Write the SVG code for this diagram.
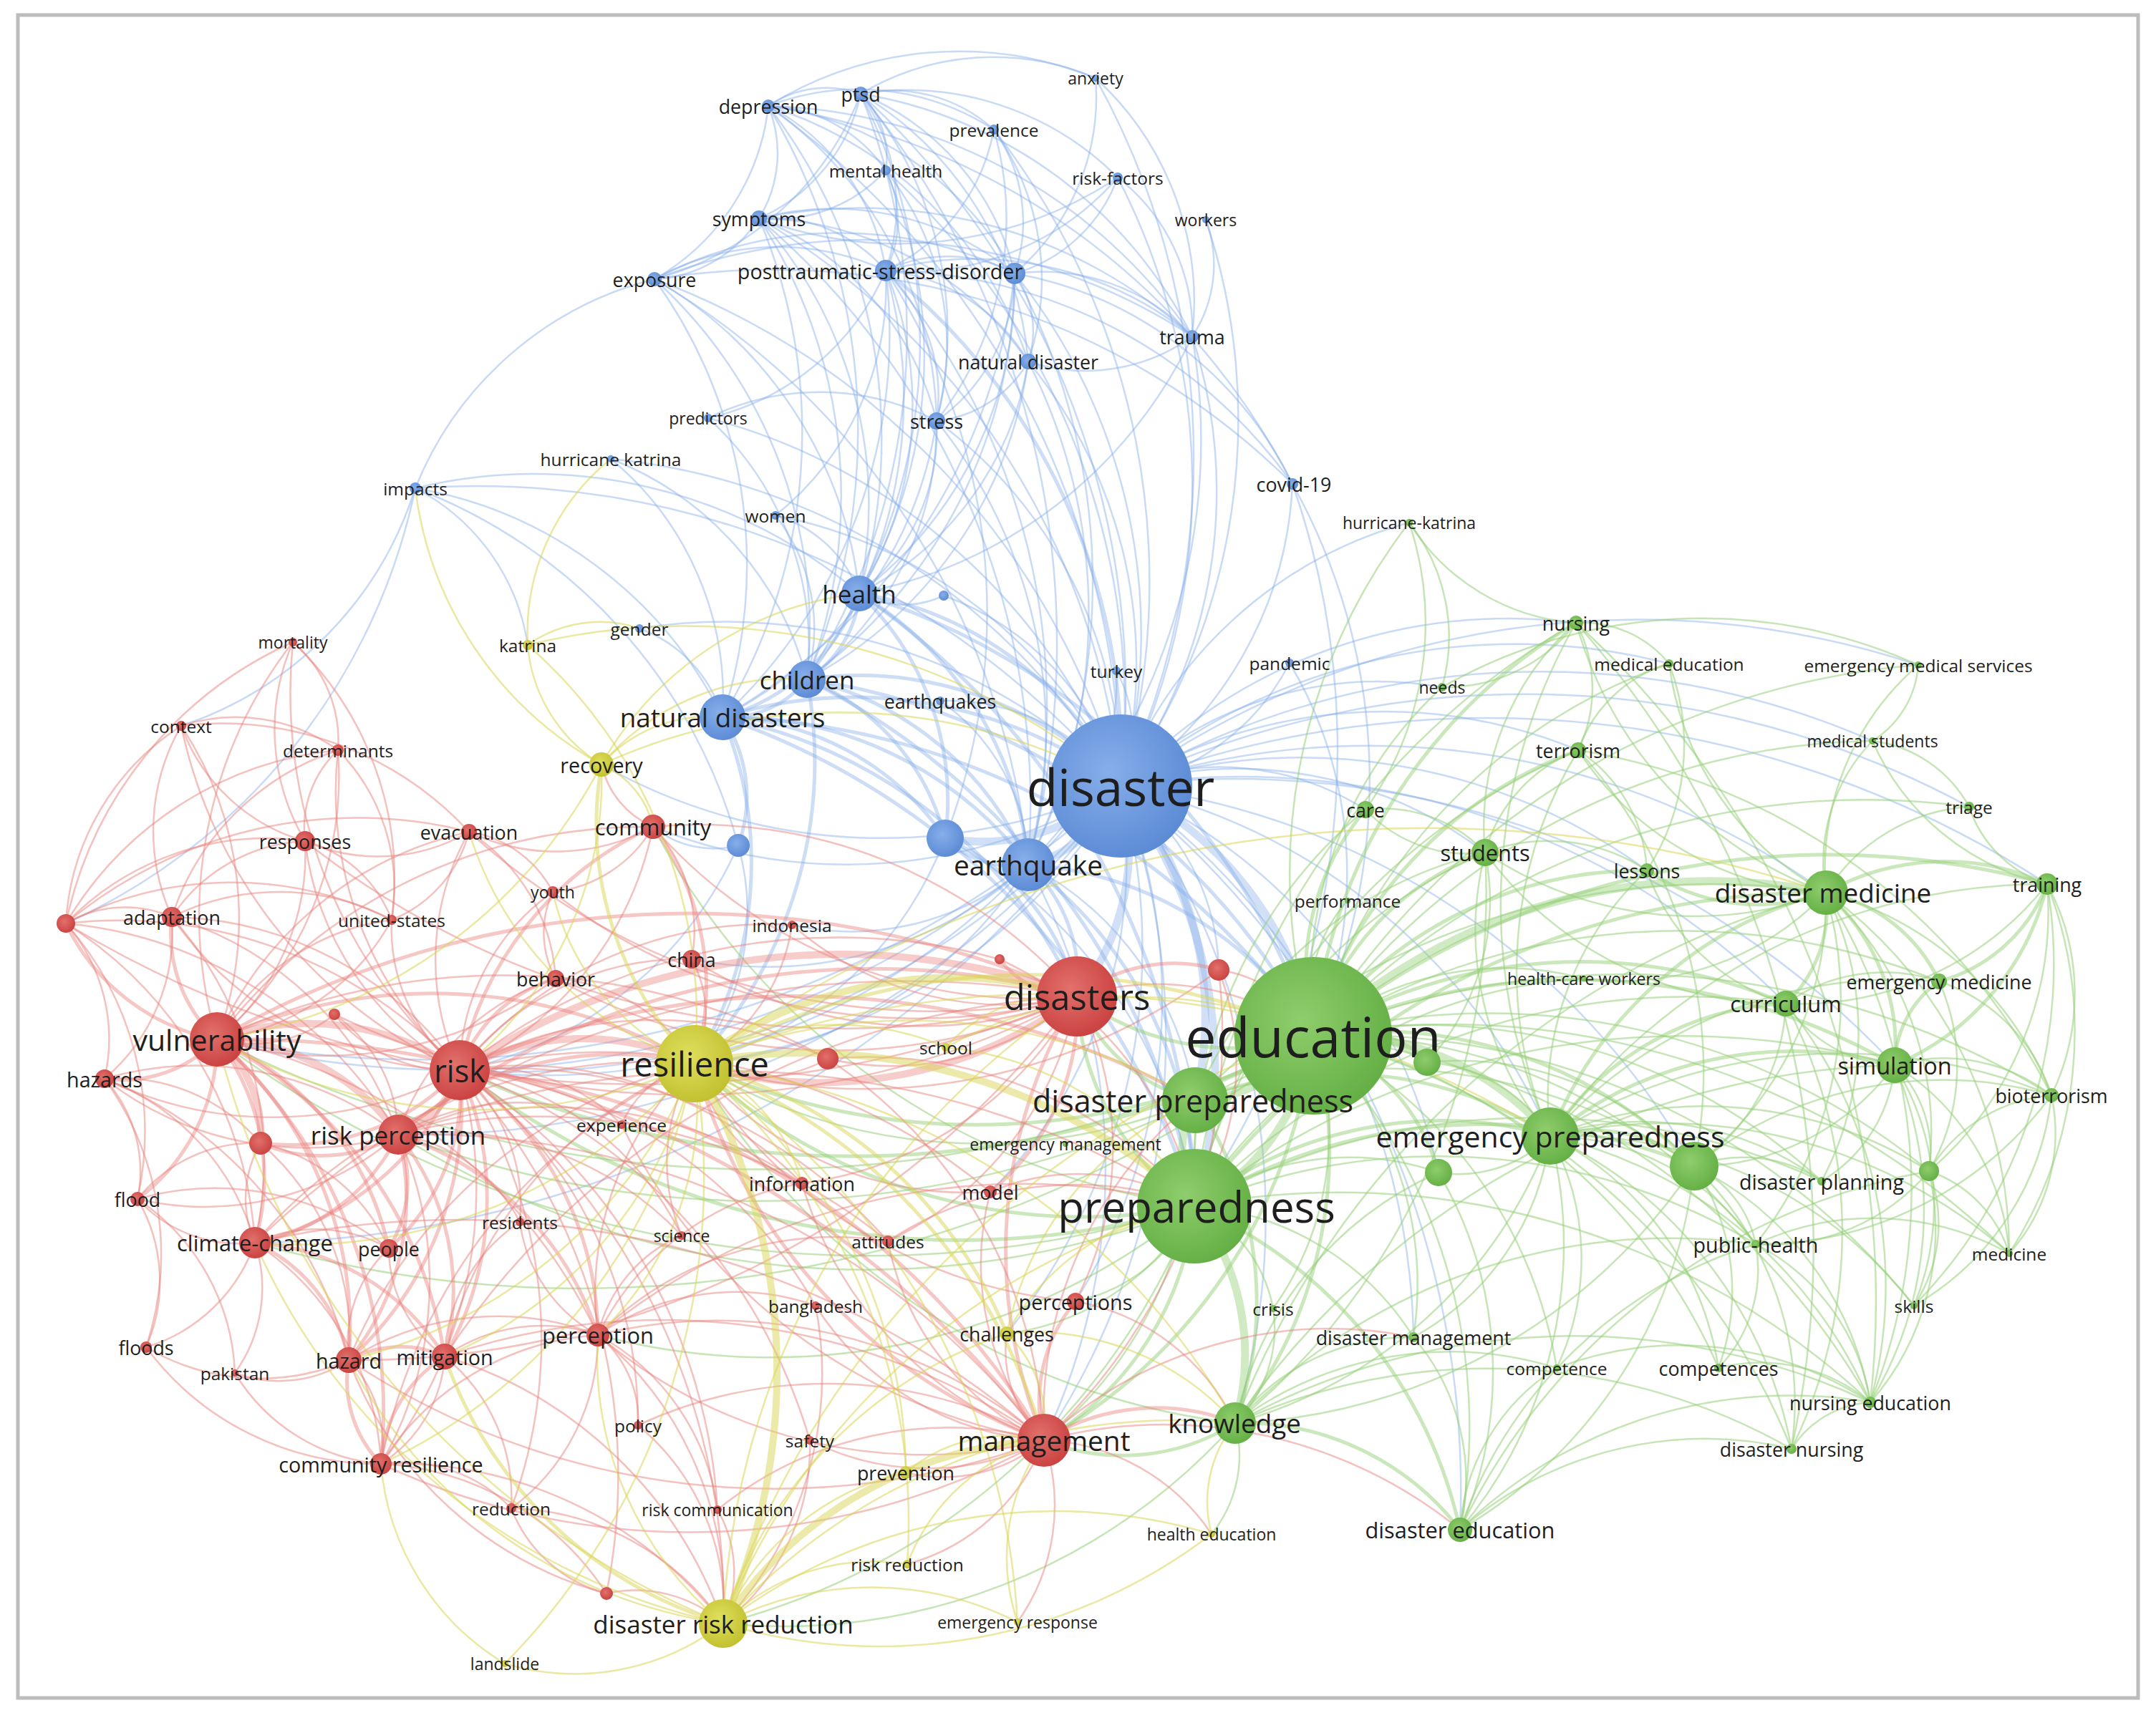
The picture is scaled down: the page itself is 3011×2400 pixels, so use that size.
<svg xmlns="http://www.w3.org/2000/svg" width="3011" height="2400" viewBox="0 0 3011 2400">
<style>
.e path{fill:none;vector-effect:non-scaling-stroke;stroke-linecap:round}
.b1{stroke:#86ade8;stroke-width:2.5;stroke-opacity:.45}
.b2{stroke:#86ade8;stroke-width:5;stroke-opacity:.42}
.b3{stroke:#86ade8;stroke-width:11;stroke-opacity:.38}
.r1{stroke:#e8837e;stroke-width:2.5;stroke-opacity:.5}
.r2{stroke:#e8837e;stroke-width:5;stroke-opacity:.45}
.r3{stroke:#e8837e;stroke-width:10;stroke-opacity:.4}
.g1{stroke:#97d07a;stroke-width:2.5;stroke-opacity:.55}
.g2{stroke:#97d07a;stroke-width:5;stroke-opacity:.5}
.g3{stroke:#97d07a;stroke-width:11;stroke-opacity:.45}
.y1{stroke:#d9d655;stroke-width:2.5;stroke-opacity:.55}
.y2{stroke:#d9d655;stroke-width:5;stroke-opacity:.5}
.y3{stroke:#d9d655;stroke-width:10;stroke-opacity:.5}
text{font-family:"Open Sans","Noto Sans","DejaVu Sans",sans-serif;fill:#1e1e1e;text-anchor:middle;dominant-baseline:central}
.nb circle{fill:url(#gB)}
.nr circle{fill:url(#gR)}
.ng circle{fill:url(#gG)}
.ny circle{fill:url(#gY)}
.f23{font-size:23px}.f24{font-size:24.5px}.f27{font-size:26.8px}.f29{font-size:28.7px}.f31{font-size:30.8px}.f33{font-size:32.5px}.f35{font-size:35px}.f37{font-size:36.8px}.f39{font-size:38.8px}.f41{font-size:41px}.f43{font-size:43px}.f47{font-size:47px}.f49{font-size:49px}.f60{font-size:60px}.f71{font-size:71px}.f77{font-size:77px}
</style>
<defs>
<radialGradient id="gB" cx=".42" cy=".4" r=".65"><stop offset="0" stop-color="#86aeea"/><stop offset="1" stop-color="#5a89d4"/></radialGradient>
<radialGradient id="gR" cx=".42" cy=".4" r=".65"><stop offset="0" stop-color="#e2706b"/><stop offset="1" stop-color="#c9403f"/></radialGradient>
<radialGradient id="gG" cx=".42" cy=".4" r=".65"><stop offset="0" stop-color="#8fcd6c"/><stop offset="1" stop-color="#62ae43"/></radialGradient>
<radialGradient id="gY" cx=".42" cy=".4" r=".65"><stop offset="0" stop-color="#e0df5e"/><stop offset="1" stop-color="#c0bf2e"/></radialGradient>
</defs>
<rect width="3011" height="2400" fill="#fff"/>
<rect x="25" y="21" width="2961" height="2351" fill="none" stroke="#bcbcbc" stroke-width="5"/>
<g id="connectors" class="e">
<g class="b1">
<path transform="matrix(129 -17 17 129 1073 148)" d="M0 0A1.1 1.1 0 0 1 1 0"/>
<path transform="matrix(-13 157 -157 -13 1073 148)" d="M0 0A1.1 1.1 0 0 1 1 0"/>
<path transform="matrix(-159 242 -242 -159 1073 148)" d="M0 0A1.1 1.1 0 0 1 1 0"/>
<path transform="matrix(164 230 -230 164 1073 148)" d="M0 0A1.1 1.1 0 0 1 1 0"/>
<path transform="matrix(344 234 -234 344 1073 148)" d="M0 0A1.1 1.1 0 0 1 1 0"/>
<path transform="matrix(164 90 -90 164 1073 148)" d="M0 0A1.1 1.1 0 0 1 1 0"/>
<path transform="matrix(315 33 -33 315 1073 148)" d="M0 0A1.1 1.1 0 0 1 1 0"/>
<path transform="matrix(457 -39 39 457 1073 148)" d="M0 0A1.1 1.1 0 0 1 1 0"/>
<path transform="matrix(235 440 -440 235 1073 148)" d="M0 0A1.1 1.1 0 0 1 1 0"/>
<path transform="matrix(363 357 -357 363 1073 148)" d="M0 0A1.1 1.1 0 0 1 1 0"/>
<path transform="matrix(127 681 -681 127 1073 148)" d="M0 0A1.1 1.1 0 0 1 1 0"/>
<path transform="matrix(54 801 -801 54 1073 148)" d="M0 0A1.1 1.1 0 0 1 1 0"/>
<path transform="matrix(492 950 -950 492 1073 148)" d="M0 0A1.1 1.1 0 0 1 1 0"/>
<path transform="matrix(592 322 -322 592 1073 148)" d="M0 0A1.1 1.1 0 0 1 1 0"/>
<path transform="matrix(732 528 -528 732 1073 148)" d="M0 0A1.1 1.1 0 0 1 1 0"/>
<path transform="matrix(-142 174 -174 -142 1202 131)" d="M0 0A1.1 1.1 0 0 1 1 0"/>
<path transform="matrix(35 247 -247 35 1202 131)" d="M0 0A1.1 1.1 0 0 1 1 0"/>
<path transform="matrix(215 251 -251 215 1202 131)" d="M0 0A1.1 1.1 0 0 1 1 0"/>
<path transform="matrix(186 50 -50 186 1202 131)" d="M0 0A1.1 1.1 0 0 1 1 0"/>
<path transform="matrix(35 107 -107 35 1202 131)" d="M0 0A1.1 1.1 0 0 1 1 0"/>
<path transform="matrix(463 339 -339 463 1202 131)" d="M0 0A1.1 1.1 0 0 1 1 0"/>
<path transform="matrix(-288 259 -259 -288 1202 131)" d="M0 0A1.1 1.1 0 0 1 1 0"/>
<path transform="matrix(106 457 -457 106 1202 131)" d="M0 0A1.1 1.1 0 0 1 1 0"/>
<path transform="matrix(234 374 -374 234 1202 131)" d="M0 0A1.1 1.1 0 0 1 1 0"/>
<path transform="matrix(363 967 -967 363 1202 131)" d="M0 0A1.1 1.1 0 0 1 1 0"/>
<path transform="matrix(-75 818 -818 -75 1202 131)" d="M0 0A1.1 1.1 0 0 1 1 0"/>
<path transform="matrix(-2 698 -698 -2 1202 131)" d="M0 0A1.1 1.1 0 0 1 1 0"/>
<path transform="matrix(234 1077 -1077 234 1202 131)" d="M0 0A1.1 1.1 0 0 1 1 0"/>
<path transform="matrix(328 -22 22 328 1202 131)" d="M0 0A1.1 1.1 0 0 1 1 0"/>
<path transform="matrix(359 117 -117 359 1202 131)" d="M0 0A1.1 1.1 0 0 1 1 0"/>
<path transform="matrix(35 989 -989 35 1530 109)" d="M0 0A1.1 1.1 0 0 1 1 0"/>
<path transform="matrix(135 361 -361 135 1530 109)" d="M0 0A1.1 1.1 0 0 1 1 0"/>
<path transform="matrix(-113 273 -273 -113 1530 109)" d="M0 0A1.1 1.1 0 0 1 1 0"/>
<path transform="matrix(-151 197 -197 -151 1388 181)" d="M0 0A1.1 1.1 0 0 1 1 0"/>
<path transform="matrix(29 201 -201 29 1388 181)" d="M0 0A1.1 1.1 0 0 1 1 0"/>
<path transform="matrix(177 917 -917 177 1388 181)" d="M0 0A1.1 1.1 0 0 1 1 0"/>
<path transform="matrix(-80 407 -407 -80 1388 181)" d="M0 0A1.1 1.1 0 0 1 1 0"/>
<path transform="matrix(48 324 -324 48 1388 181)" d="M0 0A1.1 1.1 0 0 1 1 0"/>
<path transform="matrix(0 140 -140 0 1237 238)" d="M0 0A1.1 1.1 0 0 1 1 0"/>
<path transform="matrix(-177 67 -67 -177 1237 238)" d="M0 0A1.1 1.1 0 0 1 1 0"/>
<path transform="matrix(328 860 -860 328 1237 238)" d="M0 0A1.1 1.1 0 0 1 1 0"/>
<path transform="matrix(-37 591 -591 -37 1237 238)" d="M0 0A1.1 1.1 0 0 1 1 0"/>
<path transform="matrix(71 350 -350 71 1237 238)" d="M0 0A1.1 1.1 0 0 1 1 0"/>
<path transform="matrix(-144 134 -134 -144 1561 248)" d="M0 0A1.1 1.1 0 0 1 1 0"/>
<path transform="matrix(-324 130 -130 -324 1561 248)" d="M0 0A1.1 1.1 0 0 1 1 0"/>
<path transform="matrix(4 850 -850 4 1561 248)" d="M0 0A1.1 1.1 0 0 1 1 0"/>
<path transform="matrix(104 222 -222 104 1561 248)" d="M0 0A1.1 1.1 0 0 1 1 0"/>
<path transform="matrix(-501 57 -57 -501 1561 248)" d="M0 0A1.1 1.1 0 0 1 1 0"/>
<path transform="matrix(-119 791 -791 -119 1684 307)" d="M0 0A1.1 1.1 0 0 1 1 0"/>
<path transform="matrix(-19 163 -163 -19 1684 307)" d="M0 0A1.1 1.1 0 0 1 1 0"/>
<path transform="matrix(-146 85 -85 -146 1060 305)" d="M0 0A1.1 1.1 0 0 1 1 0"/>
<path transform="matrix(177 73 -73 177 1060 305)" d="M0 0A1.1 1.1 0 0 1 1 0"/>
<path transform="matrix(357 77 -77 357 1060 305)" d="M0 0A1.1 1.1 0 0 1 1 0"/>
<path transform="matrix(248 283 -283 248 1060 305)" d="M0 0A1.1 1.1 0 0 1 1 0"/>
<path transform="matrix(376 200 -200 376 1060 305)" d="M0 0A1.1 1.1 0 0 1 1 0"/>
<path transform="matrix(67 644 -644 67 1060 305)" d="M0 0A1.1 1.1 0 0 1 1 0"/>
<path transform="matrix(140 524 -524 140 1060 305)" d="M0 0A1.1 1.1 0 0 1 1 0"/>
<path transform="matrix(505 793 -793 505 1060 305)" d="M0 0A1.1 1.1 0 0 1 1 0"/>
<path transform="matrix(-51 697 -697 -51 1060 305)" d="M0 0A1.1 1.1 0 0 1 1 0"/>
<path transform="matrix(376 903 -903 376 1060 305)" d="M0 0A1.1 1.1 0 0 1 1 0"/>
<path transform="matrix(605 165 -165 605 1060 305)" d="M0 0A1.1 1.1 0 0 1 1 0"/>
<path transform="matrix(323 -12 12 323 914 390)" d="M0 0A1.1 1.1 0 0 1 1 0"/>
<path transform="matrix(503 -8 8 503 914 390)" d="M0 0A1.1 1.1 0 0 1 1 0"/>
<path transform="matrix(95 612 -612 95 914 390)" d="M0 0A1.1 1.1 0 0 1 1 0"/>
<path transform="matrix(213 559 -559 213 914 390)" d="M0 0A1.1 1.1 0 0 1 1 0"/>
<path transform="matrix(651 708 -708 651 914 390)" d="M0 0A1.1 1.1 0 0 1 1 0"/>
<path transform="matrix(522 818 -818 522 914 390)" d="M0 0A1.1 1.1 0 0 1 1 0"/>
<path transform="matrix(286 439 -439 286 914 390)" d="M0 0A1.1 1.1 0 0 1 1 0"/>
<path transform="matrix(751 80 -80 751 914 390)" d="M0 0A1.1 1.1 0 0 1 1 0"/>
<path transform="matrix(891 286 -286 891 914 390)" d="M0 0A1.1 1.1 0 0 1 1 0"/>
<path transform="matrix(180 4 -4 180 1237 378)" d="M0 0A1.1 1.1 0 0 1 1 0"/>
<path transform="matrix(428 92 -92 428 1237 378)" d="M0 0A1.1 1.1 0 0 1 1 0"/>
<path transform="matrix(199 127 -127 199 1237 378)" d="M0 0A1.1 1.1 0 0 1 1 0"/>
<path transform="matrix(71 210 -210 71 1237 378)" d="M0 0A1.1 1.1 0 0 1 1 0"/>
<path transform="matrix(-37 451 -451 -37 1237 378)" d="M0 0A1.1 1.1 0 0 1 1 0"/>
<path transform="matrix(-110 571 -571 -110 1237 378)" d="M0 0A1.1 1.1 0 0 1 1 0"/>
<path transform="matrix(-228 624 -624 -228 1237 378)" d="M0 0A1.1 1.1 0 0 1 1 0"/>
<path transform="matrix(199 830 -830 199 1237 378)" d="M0 0A1.1 1.1 0 0 1 1 0"/>
<path transform="matrix(83 793 -793 83 1237 378)" d="M0 0A1.1 1.1 0 0 1 1 0"/>
<path transform="matrix(-154 342 -342 -154 1237 378)" d="M0 0A1.1 1.1 0 0 1 1 0"/>
<path transform="matrix(-248 206 -206 -248 1237 378)" d="M0 0A1.1 1.1 0 0 1 1 0"/>
<path transform="matrix(568 298 -298 568 1237 378)" d="M0 0A1.1 1.1 0 0 1 1 0"/>
<path transform="matrix(248 88 -88 248 1417 382)" d="M0 0A1.1 1.1 0 0 1 1 0"/>
<path transform="matrix(19 123 -123 19 1417 382)" d="M0 0A1.1 1.1 0 0 1 1 0"/>
<path transform="matrix(-109 206 -206 -109 1417 382)" d="M0 0A1.1 1.1 0 0 1 1 0"/>
<path transform="matrix(148 716 -716 148 1417 382)" d="M0 0A1.1 1.1 0 0 1 1 0"/>
<path transform="matrix(19 826 -826 19 1417 382)" d="M0 0A1.1 1.1 0 0 1 1 0"/>
<path transform="matrix(-290 567 -567 -290 1417 382)" d="M0 0A1.1 1.1 0 0 1 1 0"/>
<path transform="matrix(-217 447 -447 -217 1417 382)" d="M0 0A1.1 1.1 0 0 1 1 0"/>
<path transform="matrix(-408 620 -620 -408 1417 382)" d="M0 0A1.1 1.1 0 0 1 1 0"/>
<path transform="matrix(388 294 -294 388 1417 382)" d="M0 0A1.1 1.1 0 0 1 1 0"/>
<path transform="matrix(-100 628 -628 -100 1665 470)" d="M0 0A1.1 1.1 0 0 1 1 0"/>
<path transform="matrix(-229 35 -35 -229 1665 470)" d="M0 0A1.1 1.1 0 0 1 1 0"/>
<path transform="matrix(-229 738 -738 -229 1665 470)" d="M0 0A1.1 1.1 0 0 1 1 0"/>
<path transform="matrix(-465 359 -359 -465 1665 470)" d="M0 0A1.1 1.1 0 0 1 1 0"/>
<path transform="matrix(129 593 -593 129 1436 505)" d="M0 0A1.1 1.1 0 0 1 1 0"/>
<path transform="matrix(-128 83 -83 -128 1436 505)" d="M0 0A1.1 1.1 0 0 1 1 0"/>
<path transform="matrix(0 703 -703 0 1436 505)" d="M0 0A1.1 1.1 0 0 1 1 0"/>
<path transform="matrix(-236 324 -324 -236 1436 505)" d="M0 0A1.1 1.1 0 0 1 1 0"/>
<path transform="matrix(-309 444 -444 -309 1436 505)" d="M0 0A1.1 1.1 0 0 1 1 0"/>
<path transform="matrix(576 514 -514 576 989 584)" d="M0 0A1.1 1.1 0 0 1 1 0"/>
<path transform="matrix(138 365 -365 138 989 584)" d="M0 0A1.1 1.1 0 0 1 1 0"/>
<path transform="matrix(319 4 -4 319 989 584)" d="M0 0A1.1 1.1 0 0 1 1 0"/>
<path transform="matrix(257 510 -510 257 1308 588)" d="M0 0A1.1 1.1 0 0 1 1 0"/>
<path transform="matrix(-108 241 -241 -108 1308 588)" d="M0 0A1.1 1.1 0 0 1 1 0"/>
<path transform="matrix(128 620 -620 128 1308 588)" d="M0 0A1.1 1.1 0 0 1 1 0"/>
<path transform="matrix(-181 361 -361 -181 1308 588)" d="M0 0A1.1 1.1 0 0 1 1 0"/>
<path transform="matrix(-299 414 -414 -299 1308 588)" d="M0 0A1.1 1.1 0 0 1 1 0"/>
<path transform="matrix(712 457 -457 712 853 641)" d="M0 0A1.1 1.1 0 0 1 1 0"/>
<path transform="matrix(156 361 -361 156 853 641)" d="M0 0A1.1 1.1 0 0 1 1 0"/>
<path transform="matrix(274 308 -308 274 853 641)" d="M0 0A1.1 1.1 0 0 1 1 0"/>
<path transform="matrix(985 416 -416 985 580 682)" d="M0 0A1.1 1.1 0 0 1 1 0"/>
<path transform="matrix(429 320 -320 429 580 682)" d="M0 0A1.1 1.1 0 0 1 1 0"/>
<path transform="matrix(620 147 -147 620 580 682)" d="M0 0A1.1 1.1 0 0 1 1 0"/>
<path transform="matrix(451 499 -499 451 580 682)" d="M0 0A1.1 1.1 0 0 1 1 0"/>
<path transform="matrix(334 -292 292 334 580 682)" d="M0 0A1.1 1.1 0 0 1 1 0"/>
<path transform="matrix(157 219 -219 157 580 682)" d="M0 0A1.1 1.1 0 0 1 1 0"/>
<path transform="matrix(-327 332 -332 -327 580 682)" d="M0 0A1.1 1.1 0 0 1 1 0"/>
<path transform="matrix(-488 608 -608 -488 580 682)" d="M0 0A1.1 1.1 0 0 1 1 0"/>
<path transform="matrix(-240 422 -422 -240 1805 676)" d="M0 0A1.1 1.1 0 0 1 1 0"/>
<path transform="matrix(29 771 -771 29 1805 676)" d="M0 0A1.1 1.1 0 0 1 1 0"/>
<path transform="matrix(-137 1009 -1009 -137 1805 676)" d="M0 0A1.1 1.1 0 0 1 1 0"/>
<path transform="matrix(482 378 -378 482 1083 720)" d="M0 0A1.1 1.1 0 0 1 1 0"/>
<path transform="matrix(117 109 -109 117 1083 720)" d="M0 0A1.1 1.1 0 0 1 1 0"/>
<path transform="matrix(44 229 -229 44 1083 720)" d="M0 0A1.1 1.1 0 0 1 1 0"/>
<path transform="matrix(672 220 -220 672 893 878)" d="M0 0A1.1 1.1 0 0 1 1 0"/>
<path transform="matrix(116 124 -124 116 893 878)" d="M0 0A1.1 1.1 0 0 1 1 0"/>
<path transform="matrix(252 119 -119 252 1313 979)" d="M0 0A1.1 1.1 0 0 1 1 0"/>
<path transform="matrix(123 229 -229 123 1313 979)" d="M0 0A1.1 1.1 0 0 1 1 0"/>
<path transform="matrix(6 161 -161 6 1559 937)" d="M0 0A1.1 1.1 0 0 1 1 0"/>
<path transform="matrix(-123 271 -271 -123 1559 937)" d="M0 0A1.1 1.1 0 0 1 1 0"/>
<path transform="matrix(-236 172 -172 -236 1801 926)" d="M0 0A1.1 1.1 0 0 1 1 0"/>
<path transform="matrix(33 521 -521 33 1801 926)" d="M0 0A1.1 1.1 0 0 1 1 0"/>
<path transform="matrix(-61 305 -305 -61 1031 1181)" d="M0 0A1.1 1.1 0 0 1 1 0"/>
<path transform="matrix(-389 314 -314 -389 1031 1181)" d="M0 0A1.1 1.1 0 0 1 1 0"/>
<path transform="matrix(-119 -26 26 -119 1031 1181)" d="M0 0A1.1 1.1 0 0 1 1 0"/>
<path transform="matrix(247 266 -266 247 1318 832)" d="M0 0A1.1 1.1 0 0 1 1 0"/>
<path transform="matrix(-118 -3 3 -118 1318 832)" d="M0 0A1.1 1.1 0 0 1 1 0"/>
<path transform="matrix(600 489 -489 600 1565 1098)" d="M0 0A1.1 1.1 0 0 1 1 0"/>
<path transform="matrix(-595 388 -388 -595 1565 1098)" d="M0 0A1.1 1.1 0 0 1 1 0"/>
<path transform="matrix(985 149 -149 985 1565 1098)" d="M0 0A1.1 1.1 0 0 1 1 0"/>
<path transform="matrix(509 93 -93 509 1565 1098)" d="M0 0A1.1 1.1 0 0 1 1 0"/>
<path transform="matrix(342 33 -33 342 1565 1098)" d="M0 0A1.1 1.1 0 0 1 1 0"/>
<path transform="matrix(639 -50 50 639 1565 1098)" d="M0 0A1.1 1.1 0 0 1 1 0"/>
<path transform="matrix(636 -228 228 636 1565 1098)" d="M0 0A1.1 1.1 0 0 1 1 0"/>
<path transform="matrix(-107 914 -914 -107 1565 1098)" d="M0 0A1.1 1.1 0 0 1 1 0"/>
<path transform="matrix(160 890 -890 160 1565 1098)" d="M0 0A1.1 1.1 0 0 1 1 0"/>
<path transform="matrix(-923 397 -397 -923 1565 1098)" d="M0 0A1.1 1.1 0 0 1 1 0"/>
<path transform="matrix(-1262 354 -354 -1262 1565 1098)" d="M0 0A1.1 1.1 0 0 1 1 0"/>
<path transform="matrix(801 531 -531 801 1565 1098)" d="M0 0A1.1 1.1 0 0 1 1 0"/>
<path transform="matrix(444 540 -540 444 1565 1098)" d="M0 0A1.1 1.1 0 0 1 1 0"/>
<path transform="matrix(1081 390 -390 1081 1565 1098)" d="M0 0A1.1 1.1 0 0 1 1 0"/>
<path transform="matrix(929 304 -304 929 1565 1098)" d="M0 0A1.1 1.1 0 0 1 1 0"/>
<path transform="matrix(735 118 -118 735 1565 1098)" d="M0 0A1.1 1.1 0 0 1 1 0"/>
<path transform="matrix(449 -138 138 449 1565 1098)" d="M0 0A1.1 1.1 0 0 1 1 0"/>
<path transform="matrix(1114 -169 169 1114 1565 1098)" d="M0 0A1.1 1.1 0 0 1 1 0"/>
<path transform="matrix(766 -171 171 766 1565 1098)" d="M0 0A1.1 1.1 0 0 1 1 0"/>
<path transform="matrix(1294 137 -137 1294 1565 1098)" d="M0 0A1.1 1.1 0 0 1 1 0"/>
<path transform="matrix(1185 29 -29 1185 1565 1098)" d="M0 0A1.1 1.1 0 0 1 1 0"/>
<path transform="matrix(-653 57 -57 -653 1565 1098)" d="M0 0A1.1 1.1 0 0 1 1 0"/>
<path transform="matrix(-725 -30 30 -725 1565 1098)" d="M0 0A1.1 1.1 0 0 1 1 0"/>
<path transform="matrix(-159 765 -765 -159 1565 1098)" d="M0 0A1.1 1.1 0 0 1 1 0"/>
<path transform="matrix(-63 720 -720 -63 1565 1098)" d="M0 0A1.1 1.1 0 0 1 1 0"/>
<path transform="matrix(-182 567 -567 -182 1565 1098)" d="M0 0A1.1 1.1 0 0 1 1 0"/>
<path transform="matrix(137 257 -257 137 1565 1098)" d="M0 0A1.1 1.1 0 0 1 1 0"/>
<path transform="matrix(474 1039 -1039 474 1565 1098)" d="M0 0A1.1 1.1 0 0 1 1 0"/>
<path transform="matrix(409 770 -770 409 1565 1098)" d="M0 0A1.1 1.1 0 0 1 1 0"/>
<path transform="matrix(403 -368 368 403 1565 1098)" d="M0 0A1.1 1.1 0 0 1 1 0"/>
<path transform="matrix(1050 -63 63 1050 1565 1098)" d="M0 0A1.1 1.1 0 0 1 1 0"/>
<path transform="matrix(-1009 487 -487 -1009 1565 1098)" d="M0 0A1.1 1.1 0 0 1 1 0"/>
<path transform="matrix(-1209 638 -638 -1209 1565 1098)" d="M0 0A1.1 1.1 0 0 1 1 0"/>
<path transform="matrix(-466 278 -278 -466 1436 1208)" d="M0 0A1.1 1.1 0 0 1 1 0"/>
<path transform="matrix(-794 287 -287 -794 1436 1208)" d="M0 0A1.1 1.1 0 0 1 1 0"/>
<path transform="matrix(-1133 244 -244 -1133 1436 1208)" d="M0 0A1.1 1.1 0 0 1 1 0"/>
<path transform="matrix(-470 132 -132 -470 1436 1208)" d="M0 0A1.1 1.1 0 0 1 1 0"/>
<path transform="matrix(-330 84 -84 -330 1436 1208)" d="M0 0A1.1 1.1 0 0 1 1 0"/>
<path transform="matrix(22 804 -804 22 1436 1208)" d="M0 0A1.1 1.1 0 0 1 1 0"/>
<path transform="matrix(233 329 -329 233 1436 1208)" d="M0 0A1.1 1.1 0 0 1 1 0"/>
<path transform="matrix(-350 315 -315 -350 1320 1171)" d="M0 0A1.1 1.1 0 0 1 1 0"/>
<path transform="matrix(348 514 -514 348 1320 1171)" d="M0 0A1.1 1.1 0 0 1 1 0"/>
</g>
<g class="b2">
<path transform="matrix(365 269 -269 365 1200 829)" d="M0 0A1.1 1.1 0 0 1 1 0"/>
<path transform="matrix(-73 120 -120 -73 1200 829)" d="M0 0A1.1 1.1 0 0 1 1 0"/>
<path transform="matrix(-191 173 -173 -191 1200 829)" d="M0 0A1.1 1.1 0 0 1 1 0"/>
<path transform="matrix(236 379 -379 236 1200 829)" d="M0 0A1.1 1.1 0 0 1 1 0"/>
<path transform="matrix(120 342 -342 120 1200 829)" d="M0 0A1.1 1.1 0 0 1 1 0"/>
<path transform="matrix(634 618 -618 634 1200 829)" d="M0 0A1.1 1.1 0 0 1 1 0"/>
<path transform="matrix(468 856 -856 468 1200 829)" d="M0 0A1.1 1.1 0 0 1 1 0"/>
<path transform="matrix(438 149 -149 438 1127 949)" d="M0 0A1.1 1.1 0 0 1 1 0"/>
<path transform="matrix(-118 53 -53 -118 1127 949)" d="M0 0A1.1 1.1 0 0 1 1 0"/>
<path transform="matrix(309 259 -259 309 1127 949)" d="M0 0A1.1 1.1 0 0 1 1 0"/>
<path transform="matrix(193 222 -222 193 1127 949)" d="M0 0A1.1 1.1 0 0 1 1 0"/>
<path transform="matrix(707 498 -498 707 1127 949)" d="M0 0A1.1 1.1 0 0 1 1 0"/>
<path transform="matrix(541 736 -736 541 1127 949)" d="M0 0A1.1 1.1 0 0 1 1 0"/>
<path transform="matrix(-157 537 -537 -157 1127 949)" d="M0 0A1.1 1.1 0 0 1 1 0"/>
<path transform="matrix(556 96 -96 556 1009 1002)" d="M0 0A1.1 1.1 0 0 1 1 0"/>
<path transform="matrix(427 206 -206 427 1009 1002)" d="M0 0A1.1 1.1 0 0 1 1 0"/>
<path transform="matrix(311 169 -169 311 1009 1002)" d="M0 0A1.1 1.1 0 0 1 1 0"/>
<path transform="matrix(22 179 -179 22 1009 1002)" d="M0 0A1.1 1.1 0 0 1 1 0"/>
<path transform="matrix(-39 484 -484 -39 1009 1002)" d="M0 0A1.1 1.1 0 0 1 1 0"/>
<path transform="matrix(659 683 -683 659 1009 1002)" d="M0 0A1.1 1.1 0 0 1 1 0"/>
<path transform="matrix(825 445 -445 825 1009 1002)" d="M0 0A1.1 1.1 0 0 1 1 0"/>
<path transform="matrix(495 390 -390 495 1009 1002)" d="M0 0A1.1 1.1 0 0 1 1 0"/>
<path transform="matrix(328 720 -720 328 1237 378)" d="M0 0A1.1 1.1 0 0 1 1 0"/>
<path transform="matrix(-116 -37 37 -116 1436 1208)" d="M0 0A1.1 1.1 0 0 1 1 0"/>
<path transform="matrix(68 184 -184 68 1436 1208)" d="M0 0A1.1 1.1 0 0 1 1 0"/>
<path transform="matrix(232 477 -477 232 1436 1208)" d="M0 0A1.1 1.1 0 0 1 1 0"/>
<path transform="matrix(398 239 -239 398 1436 1208)" d="M0 0A1.1 1.1 0 0 1 1 0"/>
<path transform="matrix(184 221 -221 184 1320 1171)" d="M0 0A1.1 1.1 0 0 1 1 0"/>
</g>
<g class="b3">
<path transform="matrix(-129 110 -110 -129 1565 1098)" d="M0 0A1.1 1.1 0 0 1 1 0"/>
<path transform="matrix(-245 73 -73 -245 1565 1098)" d="M0 0A1.1 1.1 0 0 1 1 0"/>
<path transform="matrix(269 349 -349 269 1565 1098)" d="M0 0A1.1 1.1 0 0 1 1 0"/>
<path transform="matrix(103 587 -587 103 1565 1098)" d="M0 0A1.1 1.1 0 0 1 1 0"/>
<path transform="matrix(104 439 -439 104 1565 1098)" d="M0 0A1.1 1.1 0 0 1 1 0"/>
<path transform="matrix(-61 294 -294 -61 1565 1098)" d="M0 0A1.1 1.1 0 0 1 1 0"/>
</g>
<g class="g1">
<path transform="matrix(497 -520 520 497 1834 1447)" d="M0 0A1.1 1.1 0 0 1 1 0"/>
<path transform="matrix(781 -412 412 781 1834 1447)" d="M0 0A1.1 1.1 0 0 1 1 0"/>
<path transform="matrix(845 -518 518 845 1834 1447)" d="M0 0A1.1 1.1 0 0 1 1 0"/>
<path transform="matrix(916 -320 320 916 1834 1447)" d="M0 0A1.1 1.1 0 0 1 1 0"/>
<path transform="matrix(874 -76 76 874 1834 1447)" d="M0 0A1.1 1.1 0 0 1 1 0"/>
<path transform="matrix(1031 83 -83 1031 1834 1447)" d="M0 0A1.1 1.1 0 0 1 1 0"/>
<path transform="matrix(618 291 -291 618 1834 1447)" d="M0 0A1.1 1.1 0 0 1 1 0"/>
<path transform="matrix(972 304 -304 972 1834 1447)" d="M0 0A1.1 1.1 0 0 1 1 0"/>
<path transform="matrix(710 203 -203 710 1834 1447)" d="M0 0A1.1 1.1 0 0 1 1 0"/>
<path transform="matrix(778 512 -512 778 1834 1447)" d="M0 0A1.1 1.1 0 0 1 1 0"/>
<path transform="matrix(668 577 -577 668 1834 1447)" d="M0 0A1.1 1.1 0 0 1 1 0"/>
<path transform="matrix(205 690 -690 205 1834 1447)" d="M0 0A1.1 1.1 0 0 1 1 0"/>
<path transform="matrix(140 421 -421 140 1834 1447)" d="M0 0A1.1 1.1 0 0 1 1 0"/>
<path transform="matrix(340 464 -464 340 1834 1447)" d="M0 0A1.1 1.1 0 0 1 1 0"/>
<path transform="matrix(566 464 -464 566 1834 1447)" d="M0 0A1.1 1.1 0 0 1 1 0"/>
<path transform="matrix(839 377 -377 839 1834 1447)" d="M0 0A1.1 1.1 0 0 1 1 0"/>
<path transform="matrix(378 -80 80 378 1834 1447)" d="M0 0A1.1 1.1 0 0 1 1 0"/>
<path transform="matrix(180 -487 487 180 1834 1447)" d="M0 0A1.1 1.1 0 0 1 1 0"/>
<path transform="matrix(134 -717 717 134 1834 1447)" d="M0 0A1.1 1.1 0 0 1 1 0"/>
<path transform="matrix(48 -189 189 48 1834 1447)" d="M0 0A1.1 1.1 0 0 1 1 0"/>
<path transform="matrix(-56 381 -381 -56 1834 1447)" d="M0 0A1.1 1.1 0 0 1 1 0"/>
<path transform="matrix(-1278 138 -138 -1278 1834 1447)" d="M0 0A1.1 1.1 0 0 1 1 0"/>
<path transform="matrix(-1531 5 -5 -1531 1834 1447)" d="M0 0A1.1 1.1 0 0 1 1 0"/>
<path transform="matrix(-1478 289 -289 -1478 1834 1447)" d="M0 0A1.1 1.1 0 0 1 1 0"/>
<path transform="matrix(860 189 -189 860 1834 1447)" d="M0 0A1.1 1.1 0 0 1 1 0"/>
<path transform="matrix(406 -494 494 406 1668 1685)" d="M0 0A1.1 1.1 0 0 1 1 0"/>
<path transform="matrix(826 -283 283 826 1668 1685)" d="M0 0A1.1 1.1 0 0 1 1 0"/>
<path transform="matrix(978 -197 197 978 1668 1685)" d="M0 0A1.1 1.1 0 0 1 1 0"/>
<path transform="matrix(533 -815 815 533 1668 1685)" d="M0 0A1.1 1.1 0 0 1 1 0"/>
<path transform="matrix(536 -637 637 536 1668 1685)" d="M0 0A1.1 1.1 0 0 1 1 0"/>
<path transform="matrix(306 183 -183 306 1668 1685)" d="M0 0A1.1 1.1 0 0 1 1 0"/>
<path transform="matrix(784 53 -53 784 1668 1685)" d="M0 0A1.1 1.1 0 0 1 1 0"/>
<path transform="matrix(876 -35 35 876 1668 1685)" d="M0 0A1.1 1.1 0 0 1 1 0"/>
<path transform="matrix(544 -318 318 544 1668 1685)" d="M0 0A1.1 1.1 0 0 1 1 0"/>
<path transform="matrix(239 -554 554 239 1668 1685)" d="M0 0A1.1 1.1 0 0 1 1 0"/>
<path transform="matrix(-262 178 -178 -262 1668 1685)" d="M0 0A1.1 1.1 0 0 1 1 0"/>
<path transform="matrix(-166 133 -133 -166 1668 1685)" d="M0 0A1.1 1.1 0 0 1 1 0"/>
<path transform="matrix(-833 180 -180 -833 1668 1685)" d="M0 0A1.1 1.1 0 0 1 1 0"/>
<path transform="matrix(-1112 -100 100 -1112 1668 1685)" d="M0 0A1.1 1.1 0 0 1 1 0"/>
<path transform="matrix(-658 583 -583 -658 1668 1685)" d="M0 0A1.1 1.1 0 0 1 1 0"/>
<path transform="matrix(-756 -530 530 -756 1668 1685)" d="M0 0A1.1 1.1 0 0 1 1 0"/>
<path transform="matrix(-1365 -233 233 -1365 1668 1685)" d="M0 0A1.1 1.1 0 0 1 1 0"/>
<path transform="matrix(341 -47 47 341 1668 1685)" d="M0 0A1.1 1.1 0 0 1 1 0"/>
<path transform="matrix(110 143 -143 110 1668 1685)" d="M0 0A1.1 1.1 0 0 1 1 0"/>
<path transform="matrix(944 274 -274 944 1668 1685)" d="M0 0A1.1 1.1 0 0 1 1 0"/>
<path transform="matrix(-699 -51 51 -699 1669 1537)" d="M0 0A1.1 1.1 0 0 1 1 0"/>
<path transform="matrix(-211 475 -475 -211 1669 1537)" d="M0 0A1.1 1.1 0 0 1 1 0"/>
<path transform="matrix(405 -346 346 405 1669 1537)" d="M0 0A1.1 1.1 0 0 1 1 0"/>
<path transform="matrix(881 -290 290 881 1669 1537)" d="M0 0A1.1 1.1 0 0 1 1 0"/>
<path transform="matrix(697 92 -92 697 1669 1537)" d="M0 0A1.1 1.1 0 0 1 1 0"/>
<path transform="matrix(287 151 -151 287 2165 1587)" d="M0 0A1.1 1.1 0 0 1 1 0"/>
<path transform="matrix(379 63 -63 379 2165 1587)" d="M0 0A1.1 1.1 0 0 1 1 0"/>
<path transform="matrix(694 -352 352 694 2165 1587)" d="M0 0A1.1 1.1 0 0 1 1 0"/>
<path transform="matrix(700 -57 57 700 2165 1587)" d="M0 0A1.1 1.1 0 0 1 1 0"/>
<path transform="matrix(39 -539 539 39 2165 1587)" d="M0 0A1.1 1.1 0 0 1 1 0"/>
<path transform="matrix(36 -717 717 36 2165 1587)" d="M0 0A1.1 1.1 0 0 1 1 0"/>
<path transform="matrix(-440 401 -401 -440 2165 1587)" d="M0 0A1.1 1.1 0 0 1 1 0"/>
<path transform="matrix(543 -216 216 543 2165 1587)" d="M0 0A1.1 1.1 0 0 1 1 0"/>
<path transform="matrix(529 49 -49 529 2165 1587)" d="M0 0A1.1 1.1 0 0 1 1 0"/>
<path transform="matrix(-156 51 -51 -156 2165 1587)" d="M0 0A1.1 1.1 0 0 1 1 0"/>
<path transform="matrix(447 372 -372 447 2165 1587)" d="M0 0A1.1 1.1 0 0 1 1 0"/>
<path transform="matrix(235 324 -324 235 2165 1587)" d="M0 0A1.1 1.1 0 0 1 1 0"/>
<path transform="matrix(337 437 -437 337 2165 1587)" d="M0 0A1.1 1.1 0 0 1 1 0"/>
<path transform="matrix(508 237 -237 508 2165 1587)" d="M0 0A1.1 1.1 0 0 1 1 0"/>
<path transform="matrix(641 164 -164 641 2165 1587)" d="M0 0A1.1 1.1 0 0 1 1 0"/>
<path transform="matrix(135 -371 371 135 2165 1587)" d="M0 0A1.1 1.1 0 0 1 1 0"/>
<path transform="matrix(-91 -396 396 -91 2165 1587)" d="M0 0A1.1 1.1 0 0 1 1 0"/>
<path transform="matrix(-191 281 -281 -191 2165 1587)" d="M0 0A1.1 1.1 0 0 1 1 0"/>
<path transform="matrix(-126 550 -550 -126 2165 1587)" d="M0 0A1.1 1.1 0 0 1 1 0"/>
<path transform="matrix(9 324 -324 9 2165 1587)" d="M0 0A1.1 1.1 0 0 1 1 0"/>
<path transform="matrix(-184 382 -382 -184 2550 1247)" d="M0 0A1.1 1.1 0 0 1 1 0"/>
<path transform="matrix(200 -120 120 200 2550 1247)" d="M0 0A1.1 1.1 0 0 1 1 0"/>
<path transform="matrix(65 -212 212 65 2550 1247)" d="M0 0A1.1 1.1 0 0 1 1 0"/>
<path transform="matrix(-346 -199 199 -346 2550 1247)" d="M0 0A1.1 1.1 0 0 1 1 0"/>
<path transform="matrix(315 283 -283 315 2550 1247)" d="M0 0A1.1 1.1 0 0 1 1 0"/>
<path transform="matrix(-476 -56 56 -476 2550 1247)" d="M0 0A1.1 1.1 0 0 1 1 0"/>
<path transform="matrix(144 389 -389 144 2550 1247)" d="M0 0A1.1 1.1 0 0 1 1 0"/>
<path transform="matrix(129 -318 318 129 2550 1247)" d="M0 0A1.1 1.1 0 0 1 1 0"/>
<path transform="matrix(-219 -320 320 -219 2550 1247)" d="M0 0A1.1 1.1 0 0 1 1 0"/>
<path transform="matrix(-349 -377 377 -349 2550 1247)" d="M0 0A1.1 1.1 0 0 1 1 0"/>
<path transform="matrix(-98 491 -491 -98 2550 1247)" d="M0 0A1.1 1.1 0 0 1 1 0"/>
<path transform="matrix(62 712 -712 62 2550 1247)" d="M0 0A1.1 1.1 0 0 1 1 0"/>
<path transform="matrix(-338 120 -120 -338 2550 1247)" d="M0 0A1.1 1.1 0 0 1 1 0"/>
<path transform="matrix(-6 403 -403 -6 2550 1247)" d="M0 0A1.1 1.1 0 0 1 1 0"/>
<path transform="matrix(256 504 -504 256 2550 1247)" d="M0 0A1.1 1.1 0 0 1 1 0"/>
<path transform="matrix(6 295 -295 6 2859 1235)" d="M0 0A1.1 1.1 0 0 1 1 0"/>
<path transform="matrix(-365 167 -167 -365 2859 1235)" d="M0 0A1.1 1.1 0 0 1 1 0"/>
<path transform="matrix(-109 -108 108 -109 2859 1235)" d="M0 0A1.1 1.1 0 0 1 1 0"/>
<path transform="matrix(-165 401 -401 -165 2859 1235)" d="M0 0A1.1 1.1 0 0 1 1 0"/>
<path transform="matrix(-244 -200 200 -244 2859 1235)" d="M0 0A1.1 1.1 0 0 1 1 0"/>
<path transform="matrix(-53 516 -516 -53 2859 1235)" d="M0 0A1.1 1.1 0 0 1 1 0"/>
<path transform="matrix(-186 589 -589 -186 2859 1235)" d="M0 0A1.1 1.1 0 0 1 1 0"/>
<path transform="matrix(-59 221 -221 -59 2865 1530)" d="M0 0A1.1 1.1 0 0 1 1 0"/>
<path transform="matrix(-192 294 -294 -192 2865 1530)" d="M0 0A1.1 1.1 0 0 1 1 0"/>
<path transform="matrix(-413 208 -208 -413 2865 1530)" d="M0 0A1.1 1.1 0 0 1 1 0"/>
<path transform="matrix(-14 265 -265 -14 2708 1371)" d="M0 0A1.1 1.1 0 0 1 1 0"/>
<path transform="matrix(157 159 -159 157 2708 1371)" d="M0 0A1.1 1.1 0 0 1 1 0"/>
<path transform="matrix(-152 -86 86 -152 2646 1488)" d="M0 0A1.1 1.1 0 0 1 1 0"/>
<path transform="matrix(219 42 -42 219 2646 1488)" d="M0 0A1.1 1.1 0 0 1 1 0"/>
<path transform="matrix(-280 141 -141 -280 2646 1488)" d="M0 0A1.1 1.1 0 0 1 1 0"/>
<path transform="matrix(48 148 -148 48 2646 1488)" d="M0 0A1.1 1.1 0 0 1 1 0"/>
<path transform="matrix(-34 471 -471 -34 2646 1488)" d="M0 0A1.1 1.1 0 0 1 1 0"/>
<path transform="matrix(160 263 -263 160 2646 1488)" d="M0 0A1.1 1.1 0 0 1 1 0"/>
<path transform="matrix(27 336 -336 27 2646 1488)" d="M0 0A1.1 1.1 0 0 1 1 0"/>
<path transform="matrix(-102 162 -162 -102 2646 1488)" d="M0 0A1.1 1.1 0 0 1 1 0"/>
<path transform="matrix(214 -31 31 214 2494 1402)" d="M0 0A1.1 1.1 0 0 1 1 0"/>
<path transform="matrix(-420 -211 211 -420 2494 1402)" d="M0 0A1.1 1.1 0 0 1 1 0"/>
<path transform="matrix(-128 227 -227 -128 2494 1402)" d="M0 0A1.1 1.1 0 0 1 1 0"/>
<path transform="matrix(-194 -186 186 -194 2494 1402)" d="M0 0A1.1 1.1 0 0 1 1 0"/>
<path transform="matrix(118 557 -557 118 2494 1402)" d="M0 0A1.1 1.1 0 0 1 1 0"/>
<path transform="matrix(8 622 -622 8 2494 1402)" d="M0 0A1.1 1.1 0 0 1 1 0"/>
<path transform="matrix(-349 797 -797 -349 2074 1191)" d="M0 0A1.1 1.1 0 0 1 1 0"/>
<path transform="matrix(127 -321 321 127 2074 1191)" d="M0 0A1.1 1.1 0 0 1 1 0"/>
<path transform="matrix(130 -143 143 130 2074 1191)" d="M0 0A1.1 1.1 0 0 1 1 0"/>
<path transform="matrix(-81 293 -293 -81 2074 1191)" d="M0 0A1.1 1.1 0 0 1 1 0"/>
<path transform="matrix(226 25 -25 226 2074 1191)" d="M0 0A1.1 1.1 0 0 1 1 0"/>
<path transform="matrix(-167 -60 60 -167 2074 1191)" d="M0 0A1.1 1.1 0 0 1 1 0"/>
<path transform="matrix(3 178 -178 3 2201 870)" d="M0 0A1.1 1.1 0 0 1 1 0"/>
<path transform="matrix(-187 90 -90 -187 2201 870)" d="M0 0A1.1 1.1 0 0 1 1 0"/>
<path transform="matrix(411 1089 -1089 411 2201 870)" d="M0 0A1.1 1.1 0 0 1 1 0"/>
<path transform="matrix(301 1154 -1154 301 2201 870)" d="M0 0A1.1 1.1 0 0 1 1 0"/>
<path transform="matrix(-233 -140 140 -233 2201 870)" d="M0 0A1.1 1.1 0 0 1 1 0"/>
<path transform="matrix(130 57 -57 130 2201 870)" d="M0 0A1.1 1.1 0 0 1 1 0"/>
<path transform="matrix(661 482 -482 661 2204 1048)" d="M0 0A1.1 1.1 0 0 1 1 0"/>
<path transform="matrix(162 581 -581 162 2204 1048)" d="M0 0A1.1 1.1 0 0 1 1 0"/>
<path transform="matrix(127 -121 121 127 2204 1048)" d="M0 0A1.1 1.1 0 0 1 1 0"/>
<path transform="matrix(96 168 -168 96 2204 1048)" d="M0 0A1.1 1.1 0 0 1 1 0"/>
<path transform="matrix(86 109 -109 86 2366 1629)" d="M0 0A1.1 1.1 0 0 1 1 0"/>
<path transform="matrix(178 21 -21 178 2366 1629)" d="M0 0A1.1 1.1 0 0 1 1 0"/>
<path transform="matrix(246 330 -330 246 2366 1629)" d="M0 0A1.1 1.1 0 0 1 1 0"/>
<path transform="matrix(34 282 -282 34 2366 1629)" d="M0 0A1.1 1.1 0 0 1 1 0"/>
<path transform="matrix(136 395 -395 136 2366 1629)" d="M0 0A1.1 1.1 0 0 1 1 0"/>
<path transform="matrix(-641 359 -359 -641 2366 1629)" d="M0 0A1.1 1.1 0 0 1 1 0"/>
<path transform="matrix(499 -99 99 499 2366 1629)" d="M0 0A1.1 1.1 0 0 1 1 0"/>
<path transform="matrix(-327 508 -508 -327 2366 1629)" d="M0 0A1.1 1.1 0 0 1 1 0"/>
<path transform="matrix(171 -106 106 171 2694 1636)" d="M0 0A1.1 1.1 0 0 1 1 0"/>
<path transform="matrix(112 115 -115 112 2694 1636)" d="M0 0A1.1 1.1 0 0 1 1 0"/>
<path transform="matrix(-82 323 -323 -82 2694 1636)" d="M0 0A1.1 1.1 0 0 1 1 0"/>
<path transform="matrix(-21 188 -188 -21 2694 1636)" d="M0 0A1.1 1.1 0 0 1 1 0"/>
<path transform="matrix(-242 102 -102 -242 2694 1636)" d="M0 0A1.1 1.1 0 0 1 1 0"/>
<path transform="matrix(249 -120 120 249 1725 1988)" d="M0 0A1.1 1.1 0 0 1 1 0"/>
<path transform="matrix(284 -350 350 284 1725 1988)" d="M0 0A1.1 1.1 0 0 1 1 0"/>
<path transform="matrix(-33 155 -155 -33 1725 1988)" d="M0 0A1.1 1.1 0 0 1 1 0"/>
<path transform="matrix(449 -77 77 449 1725 1988)" d="M0 0A1.1 1.1 0 0 1 1 0"/>
<path transform="matrix(887 -29 29 887 1725 1988)" d="M0 0A1.1 1.1 0 0 1 1 0"/>
<path transform="matrix(-715 280 -280 -715 1725 1988)" d="M0 0A1.1 1.1 0 0 1 1 0"/>
<path transform="matrix(777 36 -36 777 1725 1988)" d="M0 0A1.1 1.1 0 0 1 1 0"/>
<path transform="matrix(-755 -502 502 -755 1725 1988)" d="M0 0A1.1 1.1 0 0 1 1 0"/>
<path transform="matrix(727 -250 250 727 1725 1988)" d="M0 0A1.1 1.1 0 0 1 1 0"/>
<path transform="matrix(921 -500 500 921 1725 1988)" d="M0 0A1.1 1.1 0 0 1 1 0"/>
<path transform="matrix(825 -741 741 825 1725 1988)" d="M0 0A1.1 1.1 0 0 1 1 0"/>
<path transform="matrix(463 -113 113 463 2039 2137)" d="M0 0A1.1 1.1 0 0 1 1 0"/>
<path transform="matrix(573 -178 178 573 2039 2137)" d="M0 0A1.1 1.1 0 0 1 1 0"/>
<path transform="matrix(135 -226 226 135 2039 2137)" d="M0 0A1.1 1.1 0 0 1 1 0"/>
<path transform="matrix(413 -399 399 413 2039 2137)" d="M0 0A1.1 1.1 0 0 1 1 0"/>
<path transform="matrix(655 -501 501 655 2039 2137)" d="M0 0A1.1 1.1 0 0 1 1 0"/>
<path transform="matrix(160 221 -221 160 2452 1738)" d="M0 0A1.1 1.1 0 0 1 1 0"/>
<path transform="matrix(-52 173 -173 -52 2452 1738)" d="M0 0A1.1 1.1 0 0 1 1 0"/>
<path transform="matrix(354 13 -13 354 2452 1738)" d="M0 0A1.1 1.1 0 0 1 1 0"/>
<path transform="matrix(110 -65 65 110 2502 2024)" d="M0 0A1.1 1.1 0 0 1 1 0"/>
<path transform="matrix(212 48 -48 212 2400 1911)" d="M0 0A1.1 1.1 0 0 1 1 0"/>
<path transform="matrix(167 60 -60 167 1907 1131)" d="M0 0A1.1 1.1 0 0 1 1 0"/>
<path transform="matrix(46 230 -230 46 1968 730)" d="M0 0A1.1 1.1 0 0 1 1 0"/>
<path transform="matrix(-61 401 -401 -61 1968 730)" d="M0 0A1.1 1.1 0 0 1 1 0"/>
<path transform="matrix(-31 289 -289 -31 2331 927)" d="M0 0A1.1 1.1 0 0 1 1 0"/>
<path transform="matrix(-64 106 -106 -64 2679 929)" d="M0 0A1.1 1.1 0 0 1 1 0"/>
<path transform="matrix(135 92 -92 135 2615 1035)" d="M0 0A1.1 1.1 0 0 1 1 0"/>
<path transform="matrix(172 103 -103 172 1993 1484)" d="M0 0A1.1 1.1 0 0 1 1 0"/>
<path transform="matrix(373 145 -145 373 1993 1484)" d="M0 0A1.1 1.1 0 0 1 1 0"/>
<path transform="matrix(30 499 -499 30 2009 1638)" d="M0 0A1.1 1.1 0 0 1 1 0"/>
<path transform="matrix(65 269 -269 65 1974 1868)" d="M0 0A1.1 1.1 0 0 1 1 0"/>
<path transform="matrix(-53 160 -160 -53 1778 1828)" d="M0 0A1.1 1.1 0 0 1 1 0"/>
<path transform="matrix(438 48 -48 438 2174 1911)" d="M0 0A1.1 1.1 0 0 1 1 0"/>
<path transform="matrix(665 -31 31 665 2014 960)" d="M0 0A1.1 1.1 0 0 1 1 0"/>
</g>
<g class="g2">
<path transform="matrix(240 -256 256 240 1834 1447)" d="M0 0A1.1 1.1 0 0 1 1 0"/>
<path transform="matrix(660 -45 45 660 1834 1447)" d="M0 0A1.1 1.1 0 0 1 1 0"/>
<path transform="matrix(812 41 -41 812 1834 1447)" d="M0 0A1.1 1.1 0 0 1 1 0"/>
<path transform="matrix(532 182 -182 532 1834 1447)" d="M0 0A1.1 1.1 0 0 1 1 0"/>
<path transform="matrix(175 191 -191 175 1834 1447)" d="M0 0A1.1 1.1 0 0 1 1 0"/>
<path transform="matrix(-109 541 -541 -109 1834 1447)" d="M0 0A1.1 1.1 0 0 1 1 0"/>
<path transform="matrix(-376 565 -565 -376 1834 1447)" d="M0 0A1.1 1.1 0 0 1 1 0"/>
<path transform="matrix(-330 -55 55 -330 1834 1447)" d="M0 0A1.1 1.1 0 0 1 1 0"/>
<path transform="matrix(-864 39 -39 -864 1834 1447)" d="M0 0A1.1 1.1 0 0 1 1 0"/>
<path transform="matrix(-1192 48 -48 -1192 1834 1447)" d="M0 0A1.1 1.1 0 0 1 1 0"/>
<path transform="matrix(367 -577 577 367 1834 1447)" d="M0 0A1.1 1.1 0 0 1 1 0"/>
<path transform="matrix(370 -399 399 370 1834 1447)" d="M0 0A1.1 1.1 0 0 1 1 0"/>
<path transform="matrix(73 -316 316 73 1834 1447)" d="M0 0A1.1 1.1 0 0 1 1 0"/>
<path transform="matrix(466 -231 231 466 1834 1447)" d="M0 0A1.1 1.1 0 0 1 1 0"/>
<path transform="matrix(1025 -212 212 1025 1834 1447)" d="M0 0A1.1 1.1 0 0 1 1 0"/>
<path transform="matrix(497 -98 98 497 1668 1685)" d="M0 0A1.1 1.1 0 0 1 1 0"/>
<path transform="matrix(-210 327 -327 -210 1668 1685)" d="M0 0A1.1 1.1 0 0 1 1 0"/>
<path transform="matrix(-164 -293 293 -164 1668 1685)" d="M0 0A1.1 1.1 0 0 1 1 0"/>
<path transform="matrix(-698 -199 199 -698 1668 1685)" d="M0 0A1.1 1.1 0 0 1 1 0"/>
<path transform="matrix(-1026 -190 190 -1026 1668 1685)" d="M0 0A1.1 1.1 0 0 1 1 0"/>
<path transform="matrix(882 -438 438 882 1668 1685)" d="M0 0A1.1 1.1 0 0 1 1 0"/>
<path transform="matrix(698 -56 56 698 1668 1685)" d="M0 0A1.1 1.1 0 0 1 1 0"/>
<path transform="matrix(371 452 -452 371 1668 1685)" d="M0 0A1.1 1.1 0 0 1 1 0"/>
<path transform="matrix(496 50 -50 496 1669 1537)" d="M0 0A1.1 1.1 0 0 1 1 0"/>
<path transform="matrix(56 451 -451 56 1669 1537)" d="M0 0A1.1 1.1 0 0 1 1 0"/>
<path transform="matrix(-165 -145 145 -165 1669 1537)" d="M0 0A1.1 1.1 0 0 1 1 0"/>
<path transform="matrix(385 -340 340 385 2165 1587)" d="M0 0A1.1 1.1 0 0 1 1 0"/>
<path transform="matrix(201 42 -42 201 2165 1587)" d="M0 0A1.1 1.1 0 0 1 1 0"/>
<path transform="matrix(481 -99 99 481 2165 1587)" d="M0 0A1.1 1.1 0 0 1 1 0"/>
<path transform="matrix(329 -185 185 329 2165 1587)" d="M0 0A1.1 1.1 0 0 1 1 0"/>
<path transform="matrix(-56 155 -155 -56 2550 1247)" d="M0 0A1.1 1.1 0 0 1 1 0"/>
<path transform="matrix(96 241 -241 96 2550 1247)" d="M0 0A1.1 1.1 0 0 1 1 0"/>
<path transform="matrix(309 -12 12 309 2550 1247)" d="M0 0A1.1 1.1 0 0 1 1 0"/>
<path transform="matrix(-250 -31 31 -250 2550 1247)" d="M0 0A1.1 1.1 0 0 1 1 0"/>
<path transform="matrix(158 124 -124 158 2550 1247)" d="M0 0A1.1 1.1 0 0 1 1 0"/>
<path transform="matrix(-151 136 -136 -151 2859 1235)" d="M0 0A1.1 1.1 0 0 1 1 0"/>
<path transform="matrix(-213 253 -253 -213 2859 1235)" d="M0 0A1.1 1.1 0 0 1 1 0"/>
<path transform="matrix(62 -117 117 62 2646 1488)" d="M0 0A1.1 1.1 0 0 1 1 0"/>
<path transform="matrix(314 149 -149 314 1725 1988)" d="M0 0A1.1 1.1 0 0 1 1 0"/>
<path transform="matrix(-267 24 -24 -267 1725 1988)" d="M0 0A1.1 1.1 0 0 1 1 0"/>
</g>
<g class="g3">
<path transform="matrix(-166 238 -238 -166 1834 1447)" d="M0 0A1.1 1.1 0 0 1 1 0"/>
<path transform="matrix(-165 90 -90 -165 1834 1447)" d="M0 0A1.1 1.1 0 0 1 1 0"/>
<path transform="matrix(331 140 -140 331 1834 1447)" d="M0 0A1.1 1.1 0 0 1 1 0"/>
<path transform="matrix(716 -200 200 716 1834 1447)" d="M0 0A1.1 1.1 0 0 1 1 0"/>
<path transform="matrix(159 37 -37 159 1834 1447)" d="M0 0A1.1 1.1 0 0 1 1 0"/>
<path transform="matrix(57 303 -303 57 1668 1685)" d="M0 0A1.1 1.1 0 0 1 1 0"/>
<path transform="matrix(1 -148 148 1 1668 1685)" d="M0 0A1.1 1.1 0 0 1 1 0"/>
</g>
<g class="r1">
<path transform="matrix(-496 12 -12 -496 642 1495)" d="M0 0A1.1 1.1 0 0 1 1 0"/>
<path transform="matrix(-95 -210 210 -95 642 1495)" d="M0 0A1.1 1.1 0 0 1 1 0"/>
<path transform="matrix(130 -249 249 130 642 1495)" d="M0 0A1.1 1.1 0 0 1 1 0"/>
<path transform="matrix(13 -333 333 13 642 1495)" d="M0 0A1.1 1.1 0 0 1 1 0"/>
<path transform="matrix(-216 -320 320 -216 642 1495)" d="M0 0A1.1 1.1 0 0 1 1 0"/>
<path transform="matrix(324 -155 155 324 642 1495)" d="M0 0A1.1 1.1 0 0 1 1 0"/>
<path transform="matrix(478 158 -158 478 642 1495)" d="M0 0A1.1 1.1 0 0 1 1 0"/>
<path transform="matrix(514 -16 16 514 642 1495)" d="M0 0A1.1 1.1 0 0 1 1 0"/>
<path transform="matrix(226 76 -76 226 642 1495)" d="M0 0A1.1 1.1 0 0 1 1 0"/>
<path transform="matrix(84 212 -212 84 642 1495)" d="M0 0A1.1 1.1 0 0 1 1 0"/>
<path transform="matrix(310 231 -231 310 642 1495)" d="M0 0A1.1 1.1 0 0 1 1 0"/>
<path transform="matrix(598 239 -239 598 642 1495)" d="M0 0A1.1 1.1 0 0 1 1 0"/>
<path transform="matrix(360 614 -614 360 642 1495)" d="M0 0A1.1 1.1 0 0 1 1 0"/>
<path transform="matrix(368 773 -773 368 642 1495)" d="M0 0A1.1 1.1 0 0 1 1 0"/>
<path transform="matrix(-110 550 -550 -110 642 1495)" d="M0 0A1.1 1.1 0 0 1 1 0"/>
<path transform="matrix(464 -203 203 464 642 1495)" d="M0 0A1.1 1.1 0 0 1 1 0"/>
<path transform="matrix(-175 -78 78 -175 642 1495)" d="M0 0A1.1 1.1 0 0 1 1 0"/>
<path transform="matrix(-170 -447 447 -170 642 1495)" d="M0 0A1.1 1.1 0 0 1 1 0"/>
<path transform="matrix(-402 -214 214 -402 642 1495)" d="M0 0A1.1 1.1 0 0 1 1 0"/>
<path transform="matrix(-233 -598 598 -233 642 1495)" d="M0 0A1.1 1.1 0 0 1 1 0"/>
<path transform="matrix(-389 -481 481 -389 642 1495)" d="M0 0A1.1 1.1 0 0 1 1 0"/>
<path transform="matrix(249 496 -496 249 642 1495)" d="M0 0A1.1 1.1 0 0 1 1 0"/>
<path transform="matrix(497 329 -329 497 642 1495)" d="M0 0A1.1 1.1 0 0 1 1 0"/>
<path transform="matrix(489 517 -517 489 642 1495)" d="M0 0A1.1 1.1 0 0 1 1 0"/>
<path transform="matrix(205 731 -731 205 642 1495)" d="M0 0A1.1 1.1 0 0 1 1 0"/>
<path transform="matrix(72 612 -612 72 642 1495)" d="M0 0A1.1 1.1 0 0 1 1 0"/>
<path transform="matrix(741 170 -170 741 642 1495)" d="M0 0A1.1 1.1 0 0 1 1 0"/>
<path transform="matrix(754 -155 155 754 642 1495)" d="M0 0A1.1 1.1 0 0 1 1 0"/>
<path transform="matrix(-364 90 -90 -364 556 1585)" d="M0 0A1.1 1.1 0 0 1 1 0"/>
<path transform="matrix(-410 -78 78 -410 556 1585)" d="M0 0A1.1 1.1 0 0 1 1 0"/>
<path transform="matrix(170 122 -122 170 556 1585)" d="M0 0A1.1 1.1 0 0 1 1 0"/>
<path transform="matrix(220 -218 218 220 556 1585)" d="M0 0A1.1 1.1 0 0 1 1 0"/>
<path transform="matrix(312 -14 14 312 556 1585)" d="M0 0A1.1 1.1 0 0 1 1 0"/>
<path transform="matrix(564 68 -68 564 556 1585)" d="M0 0A1.1 1.1 0 0 1 1 0"/>
<path transform="matrix(902 427 -427 902 556 1585)" d="M0 0A1.1 1.1 0 0 1 1 0"/>
<path transform="matrix(-24 460 -460 -24 556 1585)" d="M0 0A1.1 1.1 0 0 1 1 0"/>
<path transform="matrix(684 149 -149 684 556 1585)" d="M0 0A1.1 1.1 0 0 1 1 0"/>
<path transform="matrix(396 141 -141 396 556 1585)" d="M0 0A1.1 1.1 0 0 1 1 0"/>
<path transform="matrix(1112 100 -100 1112 556 1585)" d="M0 0A1.1 1.1 0 0 1 1 0"/>
<path transform="matrix(148 -9 9 148 92 1290)" d="M0 0A1.1 1.1 0 0 1 1 0"/>
<path transform="matrix(54 217 -217 54 92 1290)" d="M0 0A1.1 1.1 0 0 1 1 0"/>
<path transform="matrix(161 -276 276 161 92 1290)" d="M0 0A1.1 1.1 0 0 1 1 0"/>
<path transform="matrix(334 -115 115 334 92 1290)" d="M0 0A1.1 1.1 0 0 1 1 0"/>
<path transform="matrix(550 205 -205 550 92 1290)" d="M0 0A1.1 1.1 0 0 1 1 0"/>
<path transform="matrix(264 446 -446 264 92 1290)" d="M0 0A1.1 1.1 0 0 1 1 0"/>
<path transform="matrix(100 385 -385 100 92 1290)" d="M0 0A1.1 1.1 0 0 1 1 0"/>
<path transform="matrix(380 -242 242 380 92 1290)" d="M0 0A1.1 1.1 0 0 1 1 0"/>
<path transform="matrix(317 -393 393 317 92 1290)" d="M0 0A1.1 1.1 0 0 1 1 0"/>
<path transform="matrix(455 -5 5 455 92 1290)" d="M0 0A1.1 1.1 0 0 1 1 0"/>
<path transform="matrix(464 295 -295 464 92 1290)" d="M0 0A1.1 1.1 0 0 1 1 0"/>
<path transform="matrix(563 -128 128 563 92 1290)" d="M0 0A1.1 1.1 0 0 1 1 0"/>
<path transform="matrix(13 -267 267 13 240 1281)" d="M0 0A1.1 1.1 0 0 1 1 0"/>
<path transform="matrix(116 455 -455 116 240 1281)" d="M0 0A1.1 1.1 0 0 1 1 0"/>
<path transform="matrix(-94 226 -226 -94 240 1281)" d="M0 0A1.1 1.1 0 0 1 1 0"/>
<path transform="matrix(402 214 -214 402 240 1281)" d="M0 0A1.1 1.1 0 0 1 1 0"/>
<path transform="matrix(316 304 -304 316 240 1281)" d="M0 0A1.1 1.1 0 0 1 1 0"/>
<path transform="matrix(232 -233 233 232 240 1281)" d="M0 0A1.1 1.1 0 0 1 1 0"/>
<path transform="matrix(186 -106 106 186 240 1281)" d="M0 0A1.1 1.1 0 0 1 1 0"/>
<path transform="matrix(307 4 -4 307 240 1281)" d="M0 0A1.1 1.1 0 0 1 1 0"/>
<path transform="matrix(210 229 -229 210 146 1507)" d="M0 0A1.1 1.1 0 0 1 1 0"/>
<path transform="matrix(46 168 -168 46 146 1507)" d="M0 0A1.1 1.1 0 0 1 1 0"/>
<path transform="matrix(58 375 -375 58 146 1507)" d="M0 0A1.1 1.1 0 0 1 1 0"/>
<path transform="matrix(218 90 -90 218 146 1507)" d="M0 0A1.1 1.1 0 0 1 1 0"/>
<path transform="matrix(341 393 -393 341 146 1507)" d="M0 0A1.1 1.1 0 0 1 1 0"/>
<path transform="matrix(410 78 -78 410 146 1507)" d="M0 0A1.1 1.1 0 0 1 1 0"/>
<path transform="matrix(-164 -61 61 -164 356 1736)" d="M0 0A1.1 1.1 0 0 1 1 0"/>
<path transform="matrix(-152 146 -146 -152 356 1736)" d="M0 0A1.1 1.1 0 0 1 1 0"/>
<path transform="matrix(-28 182 -182 -28 356 1736)" d="M0 0A1.1 1.1 0 0 1 1 0"/>
<path transform="matrix(187 8 -8 187 356 1736)" d="M0 0A1.1 1.1 0 0 1 1 0"/>
<path transform="matrix(8 -139 139 8 356 1736)" d="M0 0A1.1 1.1 0 0 1 1 0"/>
<path transform="matrix(176 309 -309 176 356 1736)" d="M0 0A1.1 1.1 0 0 1 1 0"/>
<path transform="matrix(1102 276 -276 1102 356 1736)" d="M0 0A1.1 1.1 0 0 1 1 0"/>
<path transform="matrix(614 -250 250 614 356 1736)" d="M0 0A1.1 1.1 0 0 1 1 0"/>
<path transform="matrix(1148 -344 344 1148 356 1736)" d="M0 0A1.1 1.1 0 0 1 1 0"/>
<path transform="matrix(12 207 -207 12 192 1675)" d="M0 0A1.1 1.1 0 0 1 1 0"/>
<path transform="matrix(136 243 -243 136 192 1675)" d="M0 0A1.1 1.1 0 0 1 1 0"/>
<path transform="matrix(172 -78 78 172 192 1675)" d="M0 0A1.1 1.1 0 0 1 1 0"/>
<path transform="matrix(351 69 -69 351 192 1675)" d="M0 0A1.1 1.1 0 0 1 1 0"/>
<path transform="matrix(45 145 -145 45 487 1900)" d="M0 0A1.1 1.1 0 0 1 1 0"/>
<path transform="matrix(56 -156 156 56 487 1900)" d="M0 0A1.1 1.1 0 0 1 1 0"/>
<path transform="matrix(348 -35 35 348 487 1900)" d="M0 0A1.1 1.1 0 0 1 1 0"/>
<path transform="matrix(-283 -18 18 -283 487 1900)" d="M0 0A1.1 1.1 0 0 1 1 0"/>
<path transform="matrix(-159 18 -18 -159 487 1900)" d="M0 0A1.1 1.1 0 0 1 1 0"/>
<path transform="matrix(483 -414 414 483 487 1900)" d="M0 0A1.1 1.1 0 0 1 1 0"/>
<path transform="matrix(-89 150 -150 -89 621 1895)" d="M0 0A1.1 1.1 0 0 1 1 0"/>
<path transform="matrix(214 -30 30 214 621 1895)" d="M0 0A1.1 1.1 0 0 1 1 0"/>
<path transform="matrix(-78 -151 151 -78 621 1895)" d="M0 0A1.1 1.1 0 0 1 1 0"/>
<path transform="matrix(389 373 -373 389 621 1895)" d="M0 0A1.1 1.1 0 0 1 1 0"/>
<path transform="matrix(837 117 -117 837 621 1895)" d="M0 0A1.1 1.1 0 0 1 1 0"/>
<path transform="matrix(93 212 -212 93 621 1895)" d="M0 0A1.1 1.1 0 0 1 1 0"/>
<path transform="matrix(105 -188 188 105 621 1895)" d="M0 0A1.1 1.1 0 0 1 1 0"/>
<path transform="matrix(349 -409 409 349 621 1895)" d="M0 0A1.1 1.1 0 0 1 1 0"/>
<path transform="matrix(883 -503 503 883 621 1895)" d="M0 0A1.1 1.1 0 0 1 1 0"/>
<path transform="matrix(182 62 -62 182 532 2045)" d="M0 0A1.1 1.1 0 0 1 1 0"/>
<path transform="matrix(315 181 -181 315 532 2045)" d="M0 0A1.1 1.1 0 0 1 1 0"/>
<path transform="matrix(438 -559 559 438 532 2045)" d="M0 0A1.1 1.1 0 0 1 1 0"/>
<path transform="matrix(478 223 -223 478 532 2045)" d="M0 0A1.1 1.1 0 0 1 1 0"/>
<path transform="matrix(303 -180 180 303 532 2045)" d="M0 0A1.1 1.1 0 0 1 1 0"/>
<path transform="matrix(-204 -127 127 -204 532 2045)" d="M0 0A1.1 1.1 0 0 1 1 0"/>
<path transform="matrix(-328 -163 163 -328 532 2045)" d="M0 0A1.1 1.1 0 0 1 1 0"/>
<path transform="matrix(-52 -149 149 -52 1458 2012)" d="M0 0A1.1 1.1 0 0 1 1 0"/>
<path transform="matrix(-193 45 -45 -193 1458 2012)" d="M0 0A1.1 1.1 0 0 1 1 0"/>
<path transform="matrix(-75 -347 347 -75 1458 2012)" d="M0 0A1.1 1.1 0 0 1 1 0"/>
<path transform="matrix(211 -475 475 211 1458 2012)" d="M0 0A1.1 1.1 0 0 1 1 0"/>
<path transform="matrix(-327 0 0 -327 1458 2012)" d="M0 0A1.1 1.1 0 0 1 1 0"/>
<path transform="matrix(-191 173 -173 -191 1458 2012)" d="M0 0A1.1 1.1 0 0 1 1 0"/>
<path transform="matrix(-37 254 -254 -37 1458 2012)" d="M0 0A1.1 1.1 0 0 1 1 0"/>
<path transform="matrix(234 131 -131 234 1458 2012)" d="M0 0A1.1 1.1 0 0 1 1 0"/>
<path transform="matrix(-218 -278 278 -218 1458 2012)" d="M0 0A1.1 1.1 0 0 1 1 0"/>
<path transform="matrix(-623 -147 147 -623 1458 2012)" d="M0 0A1.1 1.1 0 0 1 1 0"/>
<path transform="matrix(-338 -359 359 -338 1458 2012)" d="M0 0A1.1 1.1 0 0 1 1 0"/>
<path transform="matrix(581 125 -125 581 1458 2012)" d="M0 0A1.1 1.1 0 0 1 1 0"/>
<path transform="matrix(516 -144 144 516 1458 2012)" d="M0 0A1.1 1.1 0 0 1 1 0"/>
<path transform="matrix(-971 -112 112 -971 1458 2012)" d="M0 0A1.1 1.1 0 0 1 1 0"/>
<path transform="matrix(-926 33 -33 -926 1458 2012)" d="M0 0A1.1 1.1 0 0 1 1 0"/>
<path transform="matrix(-319 -188 188 -319 1458 2012)" d="M0 0A1.1 1.1 0 0 1 1 0"/>
<path transform="matrix(-590 -441 441 -590 1458 2012)" d="M0 0A1.1 1.1 0 0 1 1 0"/>
<path transform="matrix(-348 87 -87 -348 1504 1392)" d="M0 0A1.1 1.1 0 0 1 1 0"/>
<path transform="matrix(-398 -100 100 -398 1504 1392)" d="M0 0A1.1 1.1 0 0 1 1 0"/>
<path transform="matrix(-538 -52 52 -538 1504 1392)" d="M0 0A1.1 1.1 0 0 1 1 0"/>
<path transform="matrix(-592 -237 237 -592 1504 1392)" d="M0 0A1.1 1.1 0 0 1 1 0"/>
<path transform="matrix(-728 -25 25 -728 1504 1392)" d="M0 0A1.1 1.1 0 0 1 1 0"/>
<path transform="matrix(-732 -146 146 -732 1504 1392)" d="M0 0A1.1 1.1 0 0 1 1 0"/>
<path transform="matrix(-2 426 -426 -2 1504 1392)" d="M0 0A1.1 1.1 0 0 1 1 0"/>
<path transform="matrix(-264 342 -342 -264 1504 1392)" d="M0 0A1.1 1.1 0 0 1 1 0"/>
<path transform="matrix(-384 261 -261 -384 1504 1392)" d="M0 0A1.1 1.1 0 0 1 1 0"/>
<path transform="matrix(-1037 25 -25 -1037 1504 1392)" d="M0 0A1.1 1.1 0 0 1 1 0"/>
<path transform="matrix(330 55 -55 330 1504 1392)" d="M0 0A1.1 1.1 0 0 1 1 0"/>
<path transform="matrix(-1017 508 -508 -1017 1504 1392)" d="M0 0A1.1 1.1 0 0 1 1 0"/>
<path transform="matrix(-1078 -217 217 -1078 1504 1392)" d="M0 0A1.1 1.1 0 0 1 1 0"/>
<path transform="matrix(-849 -230 230 -849 1504 1392)" d="M0 0A1.1 1.1 0 0 1 1 0"/>
<path transform="matrix(-1412 -102 102 -1412 1504 1392)" d="M0 0A1.1 1.1 0 0 1 1 0"/>
<path transform="matrix(405 -131 131 405 835 1865)" d="M0 0A1.1 1.1 0 0 1 1 0"/>
<path transform="matrix(285 -212 212 285 835 1865)" d="M0 0A1.1 1.1 0 0 1 1 0"/>
<path transform="matrix(117 -139 139 117 835 1865)" d="M0 0A1.1 1.1 0 0 1 1 0"/>
<path transform="matrix(304 -41 41 304 835 1865)" d="M0 0A1.1 1.1 0 0 1 1 0"/>
<path transform="matrix(56 126 -126 56 835 1865)" d="M0 0A1.1 1.1 0 0 1 1 0"/>
<path transform="matrix(167 244 -244 167 835 1865)" d="M0 0A1.1 1.1 0 0 1 1 0"/>
<path transform="matrix(175 403 -403 175 835 1865)" d="M0 0A1.1 1.1 0 0 1 1 0"/>
<path transform="matrix(-121 242 -242 -121 835 1865)" d="M0 0A1.1 1.1 0 0 1 1 0"/>
<path transform="matrix(-109 -158 158 -109 835 1865)" d="M0 0A1.1 1.1 0 0 1 1 0"/>
<path transform="matrix(135 -379 379 135 835 1865)" d="M0 0A1.1 1.1 0 0 1 1 0"/>
<path transform="matrix(623 147 -147 623 835 1865)" d="M0 0A1.1 1.1 0 0 1 1 0"/>
<path transform="matrix(833 -180 180 833 835 1865)" d="M0 0A1.1 1.1 0 0 1 1 0"/>
<path transform="matrix(853 27 -27 853 303 1452)" d="M0 0A1.1 1.1 0 0 1 1 0"/>
<path transform="matrix(532 413 -413 532 303 1452)" d="M0 0A1.1 1.1 0 0 1 1 0"/>
<path transform="matrix(352 -290 290 352 303 1452)" d="M0 0A1.1 1.1 0 0 1 1 0"/>
<path transform="matrix(609 -297 297 609 303 1452)" d="M0 0A1.1 1.1 0 0 1 1 0"/>
<path transform="matrix(244 -167 167 244 303 1452)" d="M0 0A1.1 1.1 0 0 1 1 0"/>
<path transform="matrix(106 -555 555 106 303 1452)" d="M0 0A1.1 1.1 0 0 1 1 0"/>
<path transform="matrix(179 147 -147 179 364 1597)" d="M0 0A1.1 1.1 0 0 1 1 0"/>
<path transform="matrix(123 303 -303 123 364 1597)" d="M0 0A1.1 1.1 0 0 1 1 0"/>
<path transform="matrix(-72 -87 87 -72 912 1155)" d="M0 0A1.1 1.1 0 0 1 1 0"/>
<path transform="matrix(-257 7 -7 -257 912 1155)" d="M0 0A1.1 1.1 0 0 1 1 0"/>
<path transform="matrix(-140 91 -91 -140 912 1155)" d="M0 0A1.1 1.1 0 0 1 1 0"/>
<path transform="matrix(54 185 -185 54 912 1155)" d="M0 0A1.1 1.1 0 0 1 1 0"/>
<path transform="matrix(-270 340 -340 -270 912 1155)" d="M0 0A1.1 1.1 0 0 1 1 0"/>
<path transform="matrix(592 237 -237 592 912 1155)" d="M0 0A1.1 1.1 0 0 1 1 0"/>
<path transform="matrix(-229 13 -13 -229 655 1162)" d="M0 0A1.1 1.1 0 0 1 1 0"/>
<path transform="matrix(-108 123 -123 -108 655 1162)" d="M0 0A1.1 1.1 0 0 1 1 0"/>
<path transform="matrix(117 84 -84 117 655 1162)" d="M0 0A1.1 1.1 0 0 1 1 0"/>
<path transform="matrix(121 205 -205 121 655 1162)" d="M0 0A1.1 1.1 0 0 1 1 0"/>
<path transform="matrix(121 110 -110 121 426 1175)" d="M0 0A1.1 1.1 0 0 1 1 0"/>
<path transform="matrix(46 -127 127 46 426 1175)" d="M0 0A1.1 1.1 0 0 1 1 0"/>
<path transform="matrix(-173 -161 161 -173 426 1175)" d="M0 0A1.1 1.1 0 0 1 1 0"/>
<path transform="matrix(-17 -278 278 -17 426 1175)" d="M0 0A1.1 1.1 0 0 1 1 0"/>
<path transform="matrix(-123 277 -277 -123 426 1175)" d="M0 0A1.1 1.1 0 0 1 1 0"/>
<path transform="matrix(63 151 -151 63 409 897)" d="M0 0A1.1 1.1 0 0 1 1 0"/>
<path transform="matrix(138 388 -388 138 409 897)" d="M0 0A1.1 1.1 0 0 1 1 0"/>
<path transform="matrix(219 34 -34 219 253 1014)" d="M0 0A1.1 1.1 0 0 1 1 0"/>
<path transform="matrix(402 148 -148 402 253 1014)" d="M0 0A1.1 1.1 0 0 1 1 0"/>
<path transform="matrix(50 438 -438 50 253 1014)" d="M0 0A1.1 1.1 0 0 1 1 0"/>
<path transform="matrix(75 237 -237 75 472 1048)" d="M0 0A1.1 1.1 0 0 1 1 0"/>
<path transform="matrix(-169 404 -404 -169 472 1048)" d="M0 0A1.1 1.1 0 0 1 1 0"/>
<path transform="matrix(194 119 -119 194 776 1367)" d="M0 0A1.1 1.1 0 0 1 1 0"/>
<path transform="matrix(-4 -121 121 -4 776 1367)" d="M0 0A1.1 1.1 0 0 1 1 0"/>
<path transform="matrix(-473 85 -85 -473 776 1367)" d="M0 0A1.1 1.1 0 0 1 1 0"/>
<path transform="matrix(-164 35 -35 -164 467 1417)" d="M0 0A1.1 1.1 0 0 1 1 0"/>
<path transform="matrix(89 168 -168 89 467 1417)" d="M0 0A1.1 1.1 0 0 1 1 0"/>
<path transform="matrix(163 42 -42 163 847 2226)" d="M0 0A1.1 1.1 0 0 1 1 0"/>
<path transform="matrix(-133 -119 119 -133 847 2226)" d="M0 0A1.1 1.1 0 0 1 1 0"/>
<path transform="matrix(-360 -326 326 -360 847 2226)" d="M0 0A1.1 1.1 0 0 1 1 0"/>
<path transform="matrix(296 161 -161 296 714 2107)" d="M0 0A1.1 1.1 0 0 1 1 0"/>
<path transform="matrix(8 159 -159 8 1002 2109)" d="M0 0A1.1 1.1 0 0 1 1 0"/>
<path transform="matrix(456 -97 97 456 1002 2109)" d="M0 0A1.1 1.1 0 0 1 1 0"/>
<path transform="matrix(119 277 -277 119 891 1991)" d="M0 0A1.1 1.1 0 0 1 1 0"/>
<path transform="matrix(567 21 -21 567 891 1991)" d="M0 0A1.1 1.1 0 0 1 1 0"/>
<path transform="matrix(-121 256 -256 -121 1131 2012)" d="M0 0A1.1 1.1 0 0 1 1 0"/>
<path transform="matrix(285 20 -20 285 1383 1665)" d="M0 0A1.1 1.1 0 0 1 1 0"/>
<path transform="matrix(-413 -179 179 -413 1383 1665)" d="M0 0A1.1 1.1 0 0 1 1 0"/>
<path transform="matrix(-150 -167 167 -150 1120 1653)" d="M0 0A1.1 1.1 0 0 1 1 0"/>
<path transform="matrix(428 -49 49 428 1240 1734)" d="M0 0A1.1 1.1 0 0 1 1 0"/>
<path transform="matrix(-186 7 -7 -186 1156 1479)" d="M0 0A1.1 1.1 0 0 1 1 0"/>
<path transform="matrix(512 206 -206 512 1156 1479)" d="M0 0A1.1 1.1 0 0 1 1 0"/>
<path transform="matrix(302 533 -533 302 1156 1479)" d="M0 0A1.1 1.1 0 0 1 1 0"/>
<path transform="matrix(132 92 -92 132 1702 1355)" d="M0 0A1.1 1.1 0 0 1 1 0"/>
<path transform="matrix(-34 330 -330 -34 1702 1355)" d="M0 0A1.1 1.1 0 0 1 1 0"/>
<path transform="matrix(-244 657 -657 -244 1702 1355)" d="M0 0A1.1 1.1 0 0 1 1 0"/>
<path transform="matrix(-732 131 -131 -732 1702 1355)" d="M0 0A1.1 1.1 0 0 1 1 0"/>
<path transform="matrix(223 170 -170 223 1502 1818)" d="M0 0A1.1 1.1 0 0 1 1 0"/>
<path transform="matrix(-532 -332 332 -532 1502 1818)" d="M0 0A1.1 1.1 0 0 1 1 0"/>
<path transform="matrix(-244 167 -167 -244 547 1285)" d="M0 0A1.1 1.1 0 0 1 1 0"/>
<path transform="matrix(4 146 -146 4 966 1340)" d="M0 0A1.1 1.1 0 0 1 1 0"/>
<path transform="matrix(-136 194 -194 -136 1106 1292)" d="M0 0A1.1 1.1 0 0 1 1 0"/>
<path transform="matrix(-129 444 -444 -129 1139 1824)" d="M0 0A1.1 1.1 0 0 1 1 0"/>
<path transform="matrix(18 -240 240 18 952 1726)" d="M0 0A1.1 1.1 0 0 1 1 0"/>
<path transform="matrix(102 -85 85 102 868 1571)" d="M0 0A1.1 1.1 0 0 1 1 0"/>
<path transform="matrix(272 345 -345 272 1396 1340)" d="M0 0A1.1 1.1 0 0 1 1 0"/>
</g>
<g class="r2">
<path transform="matrix(-157 55 -55 -157 303 1452)" d="M0 0A1.1 1.1 0 0 1 1 0"/>
<path transform="matrix(-63 -171 171 -63 303 1452)" d="M0 0A1.1 1.1 0 0 1 1 0"/>
<path transform="matrix(-211 -162 162 -211 303 1452)" d="M0 0A1.1 1.1 0 0 1 1 0"/>
<path transform="matrix(53 284 -284 53 303 1452)" d="M0 0A1.1 1.1 0 0 1 1 0"/>
<path transform="matrix(-111 223 -223 -111 303 1452)" d="M0 0A1.1 1.1 0 0 1 1 0"/>
<path transform="matrix(184 448 -448 184 303 1452)" d="M0 0A1.1 1.1 0 0 1 1 0"/>
<path transform="matrix(318 443 -443 318 303 1452)" d="M0 0A1.1 1.1 0 0 1 1 0"/>
<path transform="matrix(240 292 -292 240 303 1452)" d="M0 0A1.1 1.1 0 0 1 1 0"/>
<path transform="matrix(229 593 -593 229 303 1452)" d="M0 0A1.1 1.1 0 0 1 1 0"/>
<path transform="matrix(667 34 -34 667 303 1452)" d="M0 0A1.1 1.1 0 0 1 1 0"/>
<path transform="matrix(1201 -60 60 1201 303 1452)" d="M0 0A1.1 1.1 0 0 1 1 0"/>
<path transform="matrix(1155 560 -560 1155 303 1452)" d="M0 0A1.1 1.1 0 0 1 1 0"/>
<path transform="matrix(816 517 -517 816 642 1495)" d="M0 0A1.1 1.1 0 0 1 1 0"/>
<path transform="matrix(1027 42 -42 1027 642 1495)" d="M0 0A1.1 1.1 0 0 1 1 0"/>
<path transform="matrix(-286 241 -241 -286 642 1495)" d="M0 0A1.1 1.1 0 0 1 1 0"/>
<path transform="matrix(-155 405 -405 -155 642 1495)" d="M0 0A1.1 1.1 0 0 1 1 0"/>
<path transform="matrix(-21 400 -400 -21 642 1495)" d="M0 0A1.1 1.1 0 0 1 1 0"/>
<path transform="matrix(193 370 -370 193 642 1495)" d="M0 0A1.1 1.1 0 0 1 1 0"/>
<path transform="matrix(-99 249 -249 -99 642 1495)" d="M0 0A1.1 1.1 0 0 1 1 0"/>
<path transform="matrix(-278 102 -102 -278 642 1495)" d="M0 0A1.1 1.1 0 0 1 1 0"/>
<path transform="matrix(134 -128 128 134 642 1495)" d="M0 0A1.1 1.1 0 0 1 1 0"/>
<path transform="matrix(270 -340 340 270 642 1495)" d="M0 0A1.1 1.1 0 0 1 1 0"/>
<path transform="matrix(-200 151 -151 -200 556 1585)" d="M0 0A1.1 1.1 0 0 1 1 0"/>
<path transform="matrix(-69 315 -315 -69 556 1585)" d="M0 0A1.1 1.1 0 0 1 1 0"/>
<path transform="matrix(65 310 -310 65 556 1585)" d="M0 0A1.1 1.1 0 0 1 1 0"/>
<path transform="matrix(279 280 -280 279 556 1585)" d="M0 0A1.1 1.1 0 0 1 1 0"/>
<path transform="matrix(-13 159 -159 -13 556 1585)" d="M0 0A1.1 1.1 0 0 1 1 0"/>
<path transform="matrix(414 -99 99 414 556 1585)" d="M0 0A1.1 1.1 0 0 1 1 0"/>
<path transform="matrix(948 -193 193 948 556 1585)" d="M0 0A1.1 1.1 0 0 1 1 0"/>
<path transform="matrix(-192 12 -12 -192 556 1585)" d="M0 0A1.1 1.1 0 0 1 1 0"/>
<path transform="matrix(46 -620 620 46 1458 2012)" d="M0 0A1.1 1.1 0 0 1 1 0"/>
<path transform="matrix(44 -194 194 44 1458 2012)" d="M0 0A1.1 1.1 0 0 1 1 0"/>
<path transform="matrix(-488 -526 526 -488 1458 2012)" d="M0 0A1.1 1.1 0 0 1 1 0"/>
<path transform="matrix(267 -24 24 267 1458 2012)" d="M0 0A1.1 1.1 0 0 1 1 0"/>
<path transform="matrix(-121 273 -273 -121 1504 1392)" d="M0 0A1.1 1.1 0 0 1 1 0"/>
<path transform="matrix(198 -37 37 198 1504 1392)" d="M0 0A1.1 1.1 0 0 1 1 0"/>
<path transform="matrix(-108 -52 52 -108 1504 1392)" d="M0 0A1.1 1.1 0 0 1 1 0"/>
<path transform="matrix(131 164 -164 131 356 1736)" d="M0 0A1.1 1.1 0 0 1 1 0"/>
<path transform="matrix(265 159 -159 265 356 1736)" d="M0 0A1.1 1.1 0 0 1 1 0"/>
<path transform="matrix(134 -5 5 134 487 1900)" d="M0 0A1.1 1.1 0 0 1 1 0"/>
<path transform="matrix(-45 -145 145 -45 532 2045)" d="M0 0A1.1 1.1 0 0 1 1 0"/>
<path transform="matrix(89 -150 150 89 532 2045)" d="M0 0A1.1 1.1 0 0 1 1 0"/>
<path transform="matrix(58 331 -331 58 912 1155)" d="M0 0A1.1 1.1 0 0 1 1 0"/>
</g>
<g class="r3">
<path transform="matrix(339 43 -43 339 303 1452)" d="M0 0A1.1 1.1 0 0 1 1 0"/>
<path transform="matrix(253 133 -133 253 303 1452)" d="M0 0A1.1 1.1 0 0 1 1 0"/>
<path transform="matrix(61 145 -145 61 303 1452)" d="M0 0A1.1 1.1 0 0 1 1 0"/>
<path transform="matrix(-86 90 -90 -86 642 1495)" d="M0 0A1.1 1.1 0 0 1 1 0"/>
<path transform="matrix(328 -9 9 328 642 1495)" d="M0 0A1.1 1.1 0 0 1 1 0"/>
<path transform="matrix(862 -103 103 862 642 1495)" d="M0 0A1.1 1.1 0 0 1 1 0"/>
<path transform="matrix(-534 94 -94 -534 1504 1392)" d="M0 0A1.1 1.1 0 0 1 1 0"/>
</g>
<g class="y1">
<path transform="matrix(351 -23 23 351 970 1486)" d="M0 0A1.1 1.1 0 0 1 1 0"/>
<path transform="matrix(295 571 -571 295 970 1486)" d="M0 0A1.1 1.1 0 0 1 1 0"/>
<path transform="matrix(-135 379 -379 -135 970 1486)" d="M0 0A1.1 1.1 0 0 1 1 0"/>
<path transform="matrix(-438 559 -559 -438 970 1486)" d="M0 0A1.1 1.1 0 0 1 1 0"/>
<path transform="matrix(150 167 -167 150 970 1486)" d="M0 0A1.1 1.1 0 0 1 1 0"/>
<path transform="matrix(755 502 -502 755 970 1486)" d="M0 0A1.1 1.1 0 0 1 1 0"/>
<path transform="matrix(699 51 -51 699 970 1486)" d="M0 0A1.1 1.1 0 0 1 1 0"/>
<path transform="matrix(-265 838 -838 -265 970 1486)" d="M0 0A1.1 1.1 0 0 1 1 0"/>
<path transform="matrix(297 699 -699 297 970 1486)" d="M0 0A1.1 1.1 0 0 1 1 0"/>
<path transform="matrix(451 780 -780 451 970 1486)" d="M0 0A1.1 1.1 0 0 1 1 0"/>
<path transform="matrix(-667 -34 34 -667 970 1486)" d="M0 0A1.1 1.1 0 0 1 1 0"/>
<path transform="matrix(-349 409 -409 -349 970 1486)" d="M0 0A1.1 1.1 0 0 1 1 0"/>
<path transform="matrix(-483 414 -414 -483 970 1486)" d="M0 0A1.1 1.1 0 0 1 1 0"/>
<path transform="matrix(-614 250 -250 -614 970 1486)" d="M0 0A1.1 1.1 0 0 1 1 0"/>
<path transform="matrix(1195 101 -101 1195 970 1486)" d="M0 0A1.1 1.1 0 0 1 1 0"/>
<path transform="matrix(1580 -239 239 1580 970 1486)" d="M0 0A1.1 1.1 0 0 1 1 0"/>
<path transform="matrix(-198 -240 240 -198 970 1486)" d="M0 0A1.1 1.1 0 0 1 1 0"/>
<path transform="matrix(-315 -324 324 -315 970 1486)" d="M0 0A1.1 1.1 0 0 1 1 0"/>
<path transform="matrix(255 -211 211 255 1010 2268)" d="M0 0A1.1 1.1 0 0 1 1 0"/>
<path transform="matrix(257 -83 83 257 1010 2268)" d="M0 0A1.1 1.1 0 0 1 1 0"/>
<path transform="matrix(-305 56 -56 -305 1010 2268)" d="M0 0A1.1 1.1 0 0 1 1 0"/>
<path transform="matrix(411 -2 2 411 1010 2268)" d="M0 0A1.1 1.1 0 0 1 1 0"/>
<path transform="matrix(396 -405 405 396 1010 2268)" d="M0 0A1.1 1.1 0 0 1 1 0"/>
<path transform="matrix(715 -280 280 715 1010 2268)" d="M0 0A1.1 1.1 0 0 1 1 0"/>
<path transform="matrix(658 -583 583 658 1010 2268)" d="M0 0A1.1 1.1 0 0 1 1 0"/>
<path transform="matrix(-175 -403 403 -175 1010 2268)" d="M0 0A1.1 1.1 0 0 1 1 0"/>
<path transform="matrix(-523 -368 368 -523 1010 2268)" d="M0 0A1.1 1.1 0 0 1 1 0"/>
<path transform="matrix(-654 -532 532 -654 1010 2268)" d="M0 0A1.1 1.1 0 0 1 1 0"/>
<path transform="matrix(-707 -816 816 -707 1010 2268)" d="M0 0A1.1 1.1 0 0 1 1 0"/>
<path transform="matrix(494 -876 876 494 1010 2268)" d="M0 0A1.1 1.1 0 0 1 1 0"/>
<path transform="matrix(824 -821 821 824 1010 2268)" d="M0 0A1.1 1.1 0 0 1 1 0"/>
<path transform="matrix(682 -125 125 682 1010 2268)" d="M0 0A1.1 1.1 0 0 1 1 0"/>
<path transform="matrix(-103 -167 167 -103 840 1068)" d="M0 0A1.1 1.1 0 0 1 1 0"/>
<path transform="matrix(725 30 -30 725 840 1068)" d="M0 0A1.1 1.1 0 0 1 1 0"/>
<path transform="matrix(169 -66 66 169 840 1068)" d="M0 0A1.1 1.1 0 0 1 1 0"/>
<path transform="matrix(72 87 -87 72 840 1068)" d="M0 0A1.1 1.1 0 0 1 1 0"/>
<path transform="matrix(-537 384 -384 -537 840 1068)" d="M0 0A1.1 1.1 0 0 1 1 0"/>
<path transform="matrix(-198 427 -427 -198 840 1068)" d="M0 0A1.1 1.1 0 0 1 1 0"/>
<path transform="matrix(-260 -386 386 -260 840 1068)" d="M0 0A1.1 1.1 0 0 1 1 0"/>
<path transform="matrix(360 -239 239 360 840 1068)" d="M0 0A1.1 1.1 0 0 1 1 0"/>
<path transform="matrix(287 -119 119 287 840 1068)" d="M0 0A1.1 1.1 0 0 1 1 0"/>
<path transform="matrix(116 -260 260 116 737 901)" d="M0 0A1.1 1.1 0 0 1 1 0"/>
<path transform="matrix(233 585 -585 233 737 901)" d="M0 0A1.1 1.1 0 0 1 1 0"/>
<path transform="matrix(828 197 -197 828 737 901)" d="M0 0A1.1 1.1 0 0 1 1 0"/>
<path transform="matrix(156 -23 23 156 737 901)" d="M0 0A1.1 1.1 0 0 1 1 0"/>
<path transform="matrix(52 149 -149 52 1406 1863)" d="M0 0A1.1 1.1 0 0 1 1 0"/>
<path transform="matrix(262 -178 178 262 1406 1863)" d="M0 0A1.1 1.1 0 0 1 1 0"/>
<path transform="matrix(319 125 -125 319 1406 1863)" d="M0 0A1.1 1.1 0 0 1 1 0"/>
<path transform="matrix(263 -326 326 263 1406 1863)" d="M0 0A1.1 1.1 0 0 1 1 0"/>
<path transform="matrix(193 -45 45 193 1265 2057)" d="M0 0A1.1 1.1 0 0 1 1 0"/>
<path transform="matrix(183 -71 71 183 1321 1463)" d="M0 0A1.1 1.1 0 0 1 1 0"/>
<path transform="matrix(347 222 -222 347 1321 1463)" d="M0 0A1.1 1.1 0 0 1 1 0"/>
<path transform="matrix(513 -16 16 513 1321 1463)" d="M0 0A1.1 1.1 0 0 1 1 0"/>
<path transform="matrix(33 -155 155 33 1692 2143)" d="M0 0A1.1 1.1 0 0 1 1 0"/>
<path transform="matrix(-682 125 -125 -682 1692 2143)" d="M0 0A1.1 1.1 0 0 1 1 0"/>
<path transform="matrix(37 -254 254 37 1421 2266)" d="M0 0A1.1 1.1 0 0 1 1 0"/>
<path transform="matrix(191 -173 173 191 1267 2185)" d="M0 0A1.1 1.1 0 0 1 1 0"/>
<path transform="matrix(-173 -279 279 -173 705 2324)" d="M0 0A1.1 1.1 0 0 1 1 0"/>
</g>
<g class="y2">
<path transform="matrix(-130 -418 418 -130 970 1486)" d="M0 0A1.1 1.1 0 0 1 1 0"/>
<path transform="matrix(488 526 -526 488 970 1486)" d="M0 0A1.1 1.1 0 0 1 1 0"/>
<path transform="matrix(436 377 -377 436 970 1486)" d="M0 0A1.1 1.1 0 0 1 1 0"/>
<path transform="matrix(864 -39 39 864 970 1486)" d="M0 0A1.1 1.1 0 0 1 1 0"/>
<path transform="matrix(-389 -373 373 -389 1010 2268)" d="M0 0A1.1 1.1 0 0 1 1 0"/>
</g>
<g class="y3">
<path transform="matrix(40 782 -782 40 970 1486)" d="M0 0A1.1 1.1 0 0 1 1 0"/>
<path transform="matrix(448 -256 256 448 1010 2268)" d="M0 0A1.1 1.1 0 0 1 1 0"/>
<path transform="matrix(698 199 -199 698 970 1486)" d="M0 0A1.1 1.1 0 0 1 1 0"/>
<path transform="matrix(534 -94 94 534 970 1486)" d="M0 0A1.1 1.1 0 0 1 1 0"/>
</g>
</g>
<g id="nodes">
<g id="n-education" class="ng"><circle cx="1834" cy="1447" r="110"/><text x="1834" y="1447" class="f77">education</text></g>
<g id="n-disaster" class="nb"><circle cx="1565" cy="1098" r="100"/><text x="1565" y="1098" class="f71">disaster</text></g>
<g id="n-preparedness" class="ng"><circle cx="1668" cy="1685" r="80"/><text x="1671" y="1685" class="f60">preparedness</text></g>
<g id="n-green-a" class="ng"><circle cx="2366" cy="1629" r="34"/></g>
<g id="n-blue-a" class="nb"><circle cx="1320" cy="1171" r="26"/></g>
<g id="n-green-b" class="ng"><circle cx="1993" cy="1484" r="19"/></g>
<g id="n-green-c" class="ng"><circle cx="2009" cy="1638" r="19"/></g>
<g id="n-blue-b" class="nb"><circle cx="1031" cy="1181" r="16"/></g>
<g id="n-red-a" class="nr"><circle cx="364" cy="1597" r="16"/></g>
<g id="n-blue-c" class="nb"><circle cx="1417" cy="382" r="15"/></g>
<g id="n-red-b" class="nr"><circle cx="1702" cy="1355" r="15"/></g>
<g id="n-red-c" class="nr"><circle cx="1156" cy="1479" r="15"/></g>
<g id="n-green-d" class="ng"><circle cx="2694" cy="1636" r="14"/></g>
<g id="n-red-d" class="nr"><circle cx="92" cy="1290" r="13"/></g>
<g id="n-red-e" class="nr"><circle cx="847" cy="2226" r="9"/></g>
<g id="n-red-f" class="nr"><circle cx="467" cy="1417" r="8"/></g>
<g id="n-red-g" class="nr"><circle cx="1396" cy="1340" r="7"/></g>
<g id="n-blue-d" class="nb"><circle cx="1318" cy="832" r="7"/></g>
<g id="n-disasters" class="nr"><circle cx="1504" cy="1392" r="56"/><text x="1504" y="1392" class="f49">disasters</text></g>
<g id="n-resilience" class="ny"><circle cx="970" cy="1486" r="54"/><text x="970" y="1486" class="f47">resilience</text></g>
<g id="n-disaster-preparedness" class="ng"><circle cx="1669" cy="1537" r="46"/><text x="1666" y="1537" class="f43">disaster preparedness</text></g>
<g id="n-risk" class="nr"><circle cx="642" cy="1495" r="42"/><text x="642" y="1495" class="f43">risk</text></g>
<g id="n-emergency-preparedness" class="ng"><circle cx="2165" cy="1587" r="40"/><text x="2165" y="1587" class="f41">emergency preparedness</text></g>
<g id="n-vulnerability" class="nr"><circle cx="303" cy="1452" r="38"/><text x="303" y="1452" class="f41">vulnerability</text></g>
<g id="n-earthquake" class="nb"><circle cx="1436" cy="1208" r="37"/><text x="1436" y="1208" class="f39">earthquake</text></g>
<g id="n-management" class="nr"><circle cx="1458" cy="2012" r="37"/><text x="1458" y="2012" class="f39">management</text></g>
<g id="n-disaster-risk-reduction" class="ny"><circle cx="1010" cy="2268" r="34"/><text x="1010" y="2268" class="f35">disaster risk reduction</text></g>
<g id="n-natural-disasters" class="nb"><circle cx="1009" cy="1002" r="32"/><text x="1009" y="1002" class="f37">natural disasters</text></g>
<g id="n-disaster-medicine" class="ng"><circle cx="2550" cy="1247" r="31"/><text x="2546" y="1247" class="f37">disaster medicine</text></g>
<g id="n-knowledge" class="ng"><circle cx="1725" cy="1988" r="29"/><text x="1724" y="1988" class="f37">knowledge</text></g>
<g id="n-risk-perception" class="nr"><circle cx="556" cy="1585" r="28"/><text x="556" y="1585" class="f35">risk perception</text></g>
<g id="n-children" class="nb"><circle cx="1127" cy="949" r="26"/><text x="1127" y="949" class="f35">children</text></g>
<g id="n-health" class="nb"><circle cx="1200" cy="829" r="25"/><text x="1200" y="829" class="f35">health</text></g>
<g id="n-simulation" class="ng"><circle cx="2646" cy="1488" r="25"/><text x="2646" y="1488" class="f33">simulation</text></g>
<g id="n-climate-change" class="nr"><circle cx="356" cy="1736" r="22"/><text x="356" y="1736" class="f31">climate-change</text></g>
<g id="n-students" class="ng"><circle cx="2074" cy="1191" r="19"/><text x="2074" y="1191" class="f31">students</text></g>
<g id="n-curriculum" class="ng"><circle cx="2494" cy="1402" r="18"/><text x="2494" y="1402" class="f31">curriculum</text></g>
<g id="n-hazard" class="nr"><circle cx="487" cy="1900" r="18"/><text x="487" y="1900" class="f29">hazard</text></g>
<g id="n-mitigation" class="nr"><circle cx="621" cy="1895" r="18"/><text x="621" y="1895" class="f29">mitigation</text></g>
<g id="n-recovery" class="ny"><circle cx="840" cy="1068" r="17"/><text x="840" y="1068" class="f29">recovery</text></g>
<g id="n-community" class="nr"><circle cx="912" cy="1155" r="17"/><text x="912" y="1155" class="f31">community</text></g>
<g id="n-disaster-education" class="ng"><circle cx="2039" cy="2137" r="17"/><text x="2039" y="2137" class="f31">disaster education</text></g>
<g id="n-perception" class="nr"><circle cx="835" cy="1865" r="16"/><text x="835" y="1865" class="f31">perception</text></g>
<g id="n-posttraumatic-stress-disorder" class="nb"><circle cx="1237" cy="378" r="15"/><text x="1229" y="378" class="f29">posttraumatic-stress-disorder</text></g>
<g id="n-community-resilience" class="nr"><circle cx="532" cy="2045" r="15"/><text x="532" y="2045" class="f29">community resilience</text></g>
<g id="n-training" class="ng"><circle cx="2859" cy="1235" r="15"/><text x="2859" y="1235" class="f27">training</text></g>
<g id="n-responses" class="nr"><circle cx="426" cy="1175" r="14"/><text x="426" y="1175" class="f27">responses</text></g>
<g id="n-adaptation" class="nr"><circle cx="240" cy="1281" r="14"/><text x="240" y="1281" class="f27">adaptation</text></g>
<g id="n-hazards" class="nr"><circle cx="146" cy="1507" r="13"/><text x="146" y="1507" class="f29">hazards</text></g>
<g id="n-china" class="nr"><circle cx="966" cy="1340" r="13"/><text x="966" y="1340" class="f27">china</text></g>
<g id="n-people" class="nr"><circle cx="543" cy="1744" r="13"/><text x="543" y="1744" class="f27">people</text></g>
<g id="n-behavior" class="nr"><circle cx="776" cy="1367" r="12"/><text x="776" y="1367" class="f27">behavior</text></g>
<g id="n-care" class="ng"><circle cx="1907" cy="1131" r="12"/><text x="1907" y="1131" class="f27">care</text></g>
<g id="n-perceptions" class="nr"><circle cx="1502" cy="1818" r="12"/><text x="1502" y="1818" class="f29">perceptions</text></g>
<g id="n-stress" class="nb"><circle cx="1308" cy="588" r="12"/><text x="1308" y="588" class="f27">stress</text></g>
<g id="n-emergency-medicine" class="ng"><circle cx="2708" cy="1371" r="11"/><text x="2708" y="1371" class="f27">emergency medicine</text></g>
<g id="n-symptoms" class="nb"><circle cx="1060" cy="305" r="11"/><text x="1060" y="305" class="f27">symptoms</text></g>
<g id="n-natural-disaster" class="nb"><circle cx="1436" cy="505" r="11"/><text x="1436" y="505" class="f27">natural disaster</text></g>
<g id="n-terrorism" class="ng"><circle cx="2204" cy="1048" r="11"/><text x="2204" y="1048" class="f27">terrorism</text></g>
<g id="n-evacuation" class="nr"><circle cx="655" cy="1162" r="11"/><text x="655" y="1162" class="f27">evacuation</text></g>
<g id="n-ptsd" class="nb"><circle cx="1202" cy="131" r="10"/><text x="1202" y="131" class="f27">ptsd</text></g>
<g id="n-exposure" class="nb"><circle cx="914" cy="390" r="10"/><text x="914" y="390" class="f27">exposure</text></g>
<g id="n-flood" class="nr"><circle cx="192" cy="1675" r="10"/><text x="192" y="1675" class="f27">flood</text></g>
<g id="n-challenges" class="ny"><circle cx="1406" cy="1863" r="10"/><text x="1406" y="1863" class="f27">challenges</text></g>
<g id="n-lessons" class="ng"><circle cx="2300" cy="1216" r="10"/><text x="2300" y="1216" class="f27">lessons</text></g>
<g id="n-nursing" class="ng"><circle cx="2201" cy="870" r="10"/><text x="2201" y="870" class="f27">nursing</text></g>
<g id="n-bioterrorism" class="ng"><circle cx="2865" cy="1530" r="10"/><text x="2865" y="1530" class="f27">bioterrorism</text></g>
<g id="n-depression" class="nb"><circle cx="1073" cy="148" r="9"/><text x="1073" y="148" class="f27">depression</text></g>
<g id="n-trauma" class="nb"><circle cx="1665" cy="470" r="9"/><text x="1665" y="470" class="f27">trauma</text></g>
<g id="n-information" class="nr"><circle cx="1120" cy="1653" r="9"/><text x="1120" y="1653" class="f27">information</text></g>
<g id="n-model" class="nr"><circle cx="1383" cy="1665" r="9"/><text x="1383" y="1665" class="f27">model</text></g>
<g id="n-prevention" class="ny"><circle cx="1265" cy="2057" r="9"/><text x="1265" y="2057" class="f27">prevention</text></g>
<g id="n-covid-19" class="nb"><circle cx="1805" cy="676" r="8"/><text x="1807" y="676" class="f27">covid-19</text></g>
<g id="n-impacts" class="nb"><circle cx="580" cy="682" r="8"/><text x="580" y="682" class="f24">impacts</text></g>
<g id="n-attitudes" class="nr"><circle cx="1240" cy="1734" r="8"/><text x="1240" y="1734" class="f24">attitudes</text></g>
<g id="n-floods" class="nr"><circle cx="204" cy="1882" r="8"/><text x="204" y="1882" class="f27">floods</text></g>
<g id="n-determinants" class="nr"><circle cx="472" cy="1048" r="8"/><text x="472" y="1048" class="f24">determinants</text></g>
<g id="n-youth" class="nr"><circle cx="772" cy="1246" r="8"/><text x="772" y="1246" class="f23">youth</text></g>
<g id="n-nursing-education" class="ng"><circle cx="2612" cy="1959" r="8"/><text x="2612" y="1959" class="f27">nursing education</text></g>
<g id="n-prevalence" class="nb"><circle cx="1388" cy="181" r="7"/><text x="1388" y="181" class="f24">prevalence</text></g>
<g id="n-mental-health" class="nb"><circle cx="1237" cy="238" r="7"/><text x="1237" y="238" class="f24">mental health</text></g>
<g id="n-risk-factors" class="nb"><circle cx="1561" cy="248" r="7"/><text x="1561" y="248" class="f24">risk-factors</text></g>
<g id="n-context" class="nr"><circle cx="253" cy="1014" r="7"/><text x="253" y="1014" class="f24">context</text></g>
<g id="n-united-states" class="nr"><circle cx="547" cy="1285" r="7"/><text x="547" y="1285" class="f24">united-states</text></g>
<g id="n-katrina" class="ny"><circle cx="737" cy="901" r="7"/><text x="737" y="901" class="f24">katrina</text></g>
<g id="n-triage" class="ng"><circle cx="2750" cy="1127" r="7"/><text x="2750" y="1127" class="f24">triage</text></g>
<g id="n-disaster-management" class="ng"><circle cx="1974" cy="1868" r="7"/><text x="1974" y="1868" class="f27">disaster management</text></g>
<g id="n-disaster-nursing" class="ng"><circle cx="2502" cy="2024" r="7"/><text x="2502" y="2024" class="f27">disaster nursing</text></g>
<g id="n-reduction" class="nr"><circle cx="714" cy="2107" r="7"/><text x="714" y="2107" class="f24">reduction</text></g>
<g id="n-mortality" class="nr"><circle cx="409" cy="897" r="6"/><text x="409" y="897" class="f23">mortality</text></g>
<g id="n-predictors" class="nb"><circle cx="989" cy="584" r="6"/><text x="989" y="584" class="f23">predictors</text></g>
<g id="n-women" class="nb"><circle cx="1083" cy="720" r="6"/><text x="1083" y="720" class="f24">women</text></g>
<g id="n-gender" class="nb"><circle cx="893" cy="878" r="6"/><text x="893" y="878" class="f24">gender</text></g>
<g id="n-earthquakes" class="nb"><circle cx="1313" cy="979" r="6"/><text x="1313" y="979" class="f27">earthquakes</text></g>
<g id="n-turkey" class="nb"><circle cx="1559" cy="937" r="6"/><text x="1559" y="937" class="f24">turkey</text></g>
<g id="n-pandemic" class="nb"><circle cx="1801" cy="926" r="6"/><text x="1801" y="926" class="f24">pandemic</text></g>
<g id="n-school" class="ny"><circle cx="1321" cy="1463" r="6"/><text x="1321" y="1463" class="f24">school</text></g>
<g id="n-risk-reduction" class="ny"><circle cx="1267" cy="2185" r="6"/><text x="1267" y="2185" class="f24">risk reduction</text></g>
<g id="n-indonesia" class="nr"><circle cx="1106" cy="1292" r="6"/><text x="1106" y="1292" class="f24">indonesia</text></g>
<g id="n-experience" class="nr"><circle cx="868" cy="1571" r="6"/><text x="868" y="1571" class="f24">experience</text></g>
<g id="n-residents" class="nr"><circle cx="726" cy="1707" r="6"/><text x="726" y="1707" class="f24">residents</text></g>
<g id="n-science" class="nr"><circle cx="952" cy="1726" r="6"/><text x="952" y="1726" class="f23">science</text></g>
<g id="n-bangladesh" class="nr"><circle cx="1139" cy="1824" r="6"/><text x="1139" y="1824" class="f24">bangladesh</text></g>
<g id="n-policy" class="nr"><circle cx="891" cy="1991" r="6"/><text x="891" y="1991" class="f24">policy</text></g>
<g id="n-safety" class="nr"><circle cx="1131" cy="2012" r="6"/><text x="1131" y="2012" class="f24">safety</text></g>
<g id="n-risk-communication" class="nr"><circle cx="1002" cy="2109" r="6"/><text x="1002" y="2109" class="f23">risk communication</text></g>
<g id="n-medical-education" class="ng"><circle cx="2331" cy="927" r="6"/><text x="2331" y="927" class="f24">medical education</text></g>
<g id="n-needs" class="ng"><circle cx="2014" cy="960" r="6"/><text x="2014" y="960" class="f23">needs</text></g>
<g id="n-public-health" class="ng"><circle cx="2452" cy="1738" r="6"/><text x="2452" y="1738" class="f29">public-health</text></g>
<g id="n-competences" class="ng"><circle cx="2400" cy="1911" r="6"/><text x="2400" y="1911" class="f27">competences</text></g>
<g id="n-disaster-planning" class="ng"><circle cx="2544" cy="1650" r="6"/><text x="2544" y="1650" class="f29">disaster planning</text></g>
<g id="n-anxiety" class="nb"><circle cx="1530" cy="109" r="5"/><text x="1530" y="109" class="f23">anxiety</text></g>
<g id="n-workers" class="nb"><circle cx="1684" cy="307" r="5"/><text x="1684" y="307" class="f23">workers</text></g>
<g id="n-hurricane-katrina" class="nb"><circle cx="853" cy="641" r="5"/><text x="853" y="641" class="f24">hurricane katrina</text></g>
<g id="n-hurricane-katrina-2" class="ng"><circle cx="1968" cy="730" r="5"/><text x="1968" y="730" class="f23">hurricane-katrina</text></g>
<g id="n-emergency-medical-services" class="ng"><circle cx="2679" cy="929" r="5"/><text x="2679" y="929" class="f24">emergency medical services</text></g>
<g id="n-medical-students" class="ng"><circle cx="2615" cy="1035" r="5"/><text x="2615" y="1035" class="f23">medical students</text></g>
<g id="n-performance" class="ng"><circle cx="1882" cy="1258" r="4"/><text x="1882" y="1258" class="f24">performance</text></g>
<g id="n-health-care-workers" class="ng"><circle cx="2212" cy="1367" r="4"/><text x="2212" y="1367" class="f23">health-care workers</text></g>
<g id="n-emergency-management" class="ng"><circle cx="1488" cy="1598" r="4"/><text x="1488" y="1598" class="f23">emergency management</text></g>
<g id="n-medicine" class="ng"><circle cx="2806" cy="1751" r="5"/><text x="2806" y="1751" class="f24">medicine</text></g>
<g id="n-crisis" class="ng"><circle cx="1778" cy="1828" r="5"/><text x="1778" y="1828" class="f24">crisis</text></g>
<g id="n-skills" class="ng"><circle cx="2673" cy="1824" r="5"/><text x="2673" y="1824" class="f24">skills</text></g>
<g id="n-competence" class="ng"><circle cx="2174" cy="1911" r="5"/><text x="2174" y="1911" class="f24">competence</text></g>
<g id="n-health-education" class="ny"><circle cx="1692" cy="2143" r="5"/><text x="1692" y="2143" class="f23">health education</text></g>
<g id="n-emergency-response" class="ny"><circle cx="1421" cy="2266" r="5"/><text x="1421" y="2266" class="f23">emergency response</text></g>
<g id="n-landslide" class="ny"><circle cx="705" cy="2324" r="5"/><text x="705" y="2324" class="f23">landslide</text></g>
<g id="n-pakistan" class="nr"><circle cx="328" cy="1918" r="5"/><text x="328" y="1918" class="f24">pakistan</text></g>
</g>
</svg>
